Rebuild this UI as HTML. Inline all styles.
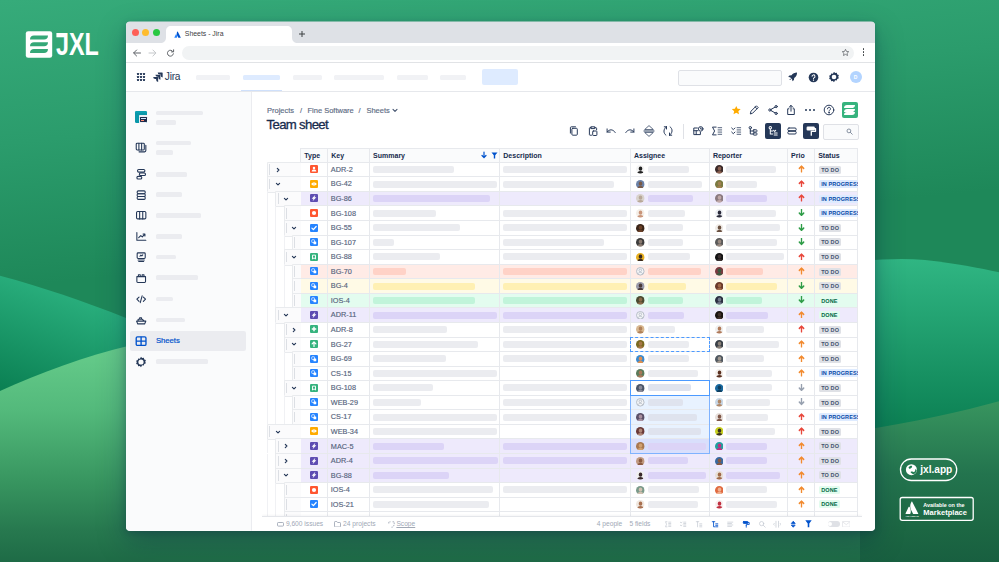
<!DOCTYPE html>
<html lang="en"><head><meta charset="utf-8"><title>Sheets - Jira</title>
<style>
html,body{margin:0;padding:0}
body{width:999px;height:562px;overflow:hidden;position:relative;background:#2a9d6e;font-family:"Liberation Sans",Arial,sans-serif;color:#172b4d}
.abs,.abs *{position:absolute}
.abs{left:0;top:0}
#bg{position:absolute;left:0;top:0}
#win{position:absolute;left:126px;top:21.5px;width:749px;height:509px;background:#fff;border-radius:4px;box-shadow:0 10px 28px rgba(9,30,66,.34),0 2px 7px rgba(9,30,66,.24);overflow:hidden}
#pg{position:absolute;left:0;top:0;width:999px;height:562px;clip-path:inset(21.5px 124px 31.5px 126px round 4px)}
#pg div,#pg span,#pg svg{position:absolute}
.t{white-space:nowrap;line-height:1}
.bar{border-radius:2px;height:7px}
.sb{height:4.8px;border-radius:1.5px;background:#ebecf0;left:156.4px}
.hl{height:1px;background:#e7e9ed}
.vl{width:1px;background:#e7e9ed}
.k{font-size:7.300px;color:#56647d;left:330.800px;-webkit-text-stroke:.15px #56647d}
.th{font-size:7px;font-weight:bold;color:#172b4d}
.loz{height:8px;border-radius:1.5px;font-size:5.500px;font-weight:bold;line-height:8.4px;padding:0 2.4px;white-space:nowrap;letter-spacing:.1px}
.todo{background:#dfe1e6;color:#42526e}
.prog{background:#deebff;color:#0747a6}
.done{background:#e3fcef;color:#006644}
.ft{font-size:6.650px;color:#a0a8b5;top:521.300px}
</style></head><body>

<svg id="bg" width="999" height="562" viewBox="0 0 999 562">
<defs>
<linearGradient id="g0" gradientUnits="userSpaceOnUse" x1="0" y1="0" x2="28" y2="285"><stop offset="0" stop-color="#36ab7a"/><stop offset="0.5" stop-color="#2b9c6c"/><stop offset="1" stop-color="#1e8859"/></linearGradient>
<linearGradient id="g2" gradientUnits="userSpaceOnUse" x1="40" y1="276" x2="0" y2="392"><stop offset="0" stop-color="#2bb17f"/><stop offset="1" stop-color="#0a7f52"/></linearGradient>
<linearGradient id="g3" gradientUnits="userSpaceOnUse" x1="0" y1="347" x2="0" y2="562"><stop offset="0" stop-color="#66cc8b"/><stop offset="0.3" stop-color="#53b97b"/><stop offset="0.62" stop-color="#389660"/><stop offset="0.85" stop-color="#27794f"/><stop offset="1" stop-color="#1e6b46"/></linearGradient>
<linearGradient id="g4" gradientUnits="userSpaceOnUse" x1="0" y1="258" x2="0" y2="432"><stop offset="0" stop-color="#30b683"/><stop offset="1" stop-color="#0b7f52"/></linearGradient>
<linearGradient id="g5" gradientUnits="userSpaceOnUse" x1="0" y1="401" x2="0" y2="562"><stop offset="0" stop-color="#38955f"/><stop offset="0.45" stop-color="#23744e"/><stop offset="0.8" stop-color="#1c6743"/><stop offset="1" stop-color="#185f40"/></linearGradient>
</defs>
<rect width="999" height="562" fill="url(#g0)"/>
<path d="M0,275.8 C42,287 84,301.500 126,318 L200,350 L200,562 L0,562Z" fill="url(#g2)"/>
<path d="M0,391 C40,373 85,356 130,345.500 L870,345.500 L870,562 L0,562Z" fill="url(#g3)"/>
<path d="M860,562 L860,261 C885,259 905,258 925,260 C955,263.500 980,268 999,272.300 L999,562Z" fill="url(#g4)"/>
<path d="M860,562 L860,430.500 C915,422 962,411.500 999,401.300 L999,562Z" fill="url(#g5)"/>
</svg>

<div id="win"></div>
<div id="pg">

<div style="left:126px;top:21px;width:749px;height:22px;background:#dee1e6"></div>
<svg style="left:160px;top:26px" width="142" height="17" viewBox="0 0 142 17"><path d="M0,17 C4,17 6,15 6,11 L6,5 C6,2 8,0 11,0 L127,0 C130,0 132,2 132,5 L132,11 C132,15 134,17 138,17Z" fill="#fff"/></svg>
<div style="left:132.0px;top:28.8px;width:7px;height:7px;border-radius:50%;background:#fe5f57"></div>
<div style="left:142.4px;top:28.8px;width:7px;height:7px;border-radius:50%;background:#febc2e"></div>
<div style="left:152.8px;top:28.8px;width:7px;height:7px;border-radius:50%;background:#28c840"></div>
<svg style="left:173.700px;top:31px" width="7" height="7" viewBox="0 0 16 16"><path d="M5.2,7.3c-.2-.3-.6-.3-.8.1L.8,14.6c-.1.3.1.6.4.6h5c.2,0,.3-.1.4-.3C7.700,12.700,7,9.600,5.200,7.300Z" fill="#2684ff"/><path d="M7.700,1.100C5.700,4.200,5.900,7.600,7.200,10.200l2.400,4.800c.1.200.2.300.4.300h5c.3,0,.5-.3.400-.6L8.500,1.100C8.300.800,7.900.800,7.700,1.100Z" fill="#0052cc"/></svg>
<span class="t" style="left:184.800px;top:31.200px;font-size:6.900px;color:#3c4043">Sheets - Jira</span>
<svg style="left:298px;top:30px" width="8" height="8" viewBox="0 0 8 8"><path d="M4,1V7M1,4H7" stroke="#3c4043" stroke-width="1" fill="none"/></svg>
<div style="left:126px;top:43px;width:749px;height:19px;background:#fff"></div>
<div style="left:126px;top:62px;width:749px;height:1px;background:#e1e3e6"></div>
<div style="left:181.5px;top:45.5px;width:672px;height:14px;border-radius:7px;background:#f1f3f4"></div>
<svg style="left:132px;top:47.5px" width="50" height="10" viewBox="0 0 50 10"><g fill="none" stroke-linecap="round" stroke-linejoin="round" stroke-width="1"><path d="M8.500,5H1.800M4.600,2L1.600,5L4.600,8" stroke="#5f6368"/><path d="M17,5H23.700M20.900,2L23.900,5L20.900,8" stroke="#c4c7ca"/><path d="M41,3.600A3,3 0 1 0 41.400,5.800" stroke="#5f6368"/><path d="M41.600,1.800V3.900H39.500" stroke="#5f6368"/></g></svg>
<svg style="left:840.5px;top:47.5px" width="9" height="9" viewBox="0 0 24 24"><path d="M12,3.500l2.600,5.600 6.100.7-4.500,4.200 1.200,6-5.400-3-5.400,3 1.200-6L3.300,9.800l6.100-.7Z" fill="none" stroke="#5f6368" stroke-width="2" stroke-linejoin="round"/></svg>
<div style="left:862.7px;top:48.400000000000006px;width:1.7px;height:1.7px;border-radius:50%;background:#3c4043"></div>
<div style="left:862.7px;top:51.2px;width:1.7px;height:1.7px;border-radius:50%;background:#3c4043"></div>
<div style="left:862.7px;top:54.0px;width:1.7px;height:1.7px;border-radius:50%;background:#3c4043"></div>
<div style="left:126px;top:91px;width:749px;height:1px;background:#e6e8ec"></div>
<div style="left:137.0px;top:72.6px;width:2px;height:2px;border-radius:.4px;background:#253858"></div>
<div style="left:137.0px;top:75.69999999999999px;width:2px;height:2px;border-radius:.4px;background:#253858"></div>
<div style="left:137.0px;top:78.8px;width:2px;height:2px;border-radius:.4px;background:#253858"></div>
<div style="left:140.1px;top:72.6px;width:2px;height:2px;border-radius:.4px;background:#253858"></div>
<div style="left:140.1px;top:75.69999999999999px;width:2px;height:2px;border-radius:.4px;background:#253858"></div>
<div style="left:140.1px;top:78.8px;width:2px;height:2px;border-radius:.4px;background:#253858"></div>
<div style="left:143.2px;top:72.6px;width:2px;height:2px;border-radius:.4px;background:#253858"></div>
<div style="left:143.2px;top:75.69999999999999px;width:2px;height:2px;border-radius:.4px;background:#253858"></div>
<div style="left:143.2px;top:78.8px;width:2px;height:2px;border-radius:.4px;background:#253858"></div>
<svg style="left:152.500px;top:72px" width="10" height="10" viewBox="0 0 20 20"><g fill="#253858"><path d="M18.500,1H9.400a4.100,4.100 0 0 0 4.100,4.100h1.700v1.600a4.100,4.100 0 0 0 4.100,4.100V1.800A.8.800 0 0 0 18.500,1Z"/><path d="M14,5.500H4.900A4.100,4.100 0 0 0 9,9.600h1.700v1.600a4.100,4.100 0 0 0 4.100,4.100V6.300A.8.800 0 0 0 14,5.500Z"/><path d="M9.500,10H.4a4.100,4.100 0 0 0 4.100,4.100h1.700v1.600a4.100,4.100 0 0 0 4.100,4.100V10.800A.8.800 0 0 0 9.500,10Z"/></g></svg>
<span class="t" style="left:164.800px;top:71.6px;font-size:10.200px;color:#253858;letter-spacing:-.25px">Jira</span>
<div style="left:196px;top:74.6px;width:34px;height:5px;border-radius:1.5px;background:#f1f2f5"></div>
<div style="left:243px;top:74.6px;width:36.5px;height:5px;border-radius:1.5px;background:#deebff"></div>
<div style="left:293px;top:74.6px;width:28.5px;height:5px;border-radius:1.5px;background:#f1f2f5"></div>
<div style="left:334px;top:74.6px;width:50px;height:5px;border-radius:1.5px;background:#f1f2f5"></div>
<div style="left:396.5px;top:74.6px;width:31.0px;height:5px;border-radius:1.5px;background:#f1f2f5"></div>
<div style="left:440px;top:74.6px;width:26px;height:5px;border-radius:1.5px;background:#f1f2f5"></div>
<div style="left:241px;top:89.8px;width:40.5px;height:1.6px;background:#cfe0fb"></div>
<div style="left:481.5px;top:68.5px;width:36px;height:16.5px;border-radius:2px;background:#deebff"></div>
<div style="left:677.5px;top:69.5px;width:102.500px;height:14.500px;border-radius:2px;border:1px solid #dfe1e6;background:#fafbfc;box-sizing:content-box"></div>
<svg style="left:787.300px;top:71.300px" width="11.500" height="11.500" viewBox="0 0 24 24"><path d="M21,3c-5,0-9,2-11.500,6L5,9.500 2.500,12.500l4,.8 4.200,4.200.8,4 3-2.500.5-4.500C19,12,21,8,21,3ZM6.500,15.500l2,2L5,19Z" fill="#253858"/></svg>
<svg style="left:808px;top:71.500px" width="11" height="11" viewBox="0 0 24 24"><circle cx="12" cy="12" r="10.500" fill="#253858"/><path d="M8.800,9.500a3.200,3.200 0 1 1 4.800,2.700c-1,.6-1.600,1.100-1.600,2.300" stroke="#fff" stroke-width="2.200" fill="none" stroke-linecap="round"/><circle cx="12" cy="17.800" r="1.400" fill="#fff"/></svg>
<svg style="left:828px;top:71px" width="12" height="12" viewBox="0 0 24 24"><path d="M12,1.500l2.200,2.700 3.400-.8 .9,3.400 3.300,1.300-1.300,3.200 1.300,3.200-3.300,1.300-.9,3.400-3.400-.8L12,22.500l-2.200-2.700-3.400.8-.9-3.400-3.300-1.300 1.300-3.200L2.200,9.500l3.300-1.300.9-3.400 3.400.8Z" fill="#253858"/><circle cx="12" cy="12" r="4.600" fill="#fff"/></svg>
<div style="left:850px;top:71px;width:12px;height:12px;border-radius:50%;background:#b3d4ff"></div><span class="t" style="left:853.800px;top:74.600px;font-size:5px;color:#fff;font-weight:bold">D</span>
<div style="left:126px;top:92px;width:125px;height:440px;background:#fafbfc"></div>
<div style="left:251px;top:92px;width:1px;height:440px;background:#ebecf0"></div>
<div style="left:134.800px;top:110.600px;width:12.700px;height:12.500px;border-radius:1.5px;background:#0a98aa"></div>
<div style="left:134.800px;top:110.600px;width:12.700px;height:2px;border-radius:1.5px 1.5px 0 0;background:#0da0b2"></div>
<div style="left:139.300px;top:115.300px;width:8.200px;height:7.800px;background:#e9eef5;border-radius:.8px 0 1.5px 0"></div><div style="left:140px;top:116.700px;width:7.200px;height:5.700px;background:#1d2a4a;border-radius:.4px"></div>
<div style="left:141px;top:118.300px;width:5px;height:1px;background:#cfe8ff"></div><div style="left:141px;top:120.300px;width:3px;height:1px;background:#ff8f73"></div>
<div class="sb" style="top:110.500px;width:46.700px"></div><div class="sb" style="top:119.800px;width:19.900px"></div>
<div class="sb" style="top:140.700px;width:34.200px"></div><div class="sb" style="top:150.100px;width:17.100px"></div>
<div class="sb" style="top:172.0px;width:30.5px"></div>
<div class="sb" style="top:192.3px;width:25.9px"></div>
<div class="sb" style="top:213.1px;width:44.4px"></div>
<div class="sb" style="top:233.9px;width:25.9px"></div>
<div class="sb" style="top:254.6px;width:19.9px"></div>
<div class="sb" style="top:275.4px;width:41.9px"></div>
<div class="sb" style="top:296.5px;width:16.5px"></div>
<div class="sb" style="top:317.6px;width:28.8px"></div>
<div class="sb" style="top:359.4px;width:51.8px"></div>
<div style="left:130px;top:330.500px;width:116.400px;height:20px;border-radius:2px;background:#ebecf0"></div>
<span class="t" style="left:155.900px;top:336.800px;font-size:7.700px;color:#0052cc;-webkit-text-stroke:.2px #0052cc">Sheets</span>
<svg style="left:135.1px;top:140.7px" width="12.4" height="12.4" viewBox="0 0 20 20"><g fill="none" stroke="#253858" stroke-width="1.750" stroke-linecap="round" stroke-linejoin="round"><rect x="2" y="3.500" width="13" height="11" rx="1.500"/><path d="M6.300,3.500v11M10.700,3.500v11M17.500,7v8.500a2,2 0 0 1-2,2H6.500"/></g></svg>
<svg style="left:135.1px;top:168.2px" width="12.4" height="12.4" viewBox="0 0 20 20"><g fill="none" stroke="#253858" stroke-width="1.750" stroke-linecap="round" stroke-linejoin="round"><rect x="4" y="2.500" width="12" height="4.200" rx="2.100"/><rect x="7" y="8" width="10" height="4.200" rx="2.100"/><rect x="3" y="13.500" width="8" height="4.200" rx="2.100"/></g></svg>
<svg style="left:135.1px;top:188.5px" width="12.4" height="12.4" viewBox="0 0 20 20"><g fill="none" stroke="#253858" stroke-width="1.750" stroke-linecap="round" stroke-linejoin="round"><rect x="3.500" y="3" width="13" height="4.600" rx="1.800"/><rect x="3.500" y="7.600" width="13" height="4.600" rx="1.800"/><rect x="3.500" y="12.200" width="13" height="4.600" rx="1.800"/></g></svg>
<svg style="left:135.1px;top:209.3px" width="12.4" height="12.4" viewBox="0 0 20 20"><g fill="none" stroke="#253858" stroke-width="1.750" stroke-linecap="round" stroke-linejoin="round"><rect x="2.500" y="4" width="15" height="12" rx="1.800"/><path d="M7.500,4v12M12.500,4v12"/></g></svg>
<svg style="left:135.1px;top:230.1px" width="12.4" height="12.4" viewBox="0 0 20 20"><g fill="none" stroke="#253858" stroke-width="1.750" stroke-linecap="round" stroke-linejoin="round"><path d="M3,4v12.500h14.500M6,12.500l3.300-3.500 2.500,2.200 4-4.500M13,6.500h3v3"/></g></svg>
<svg style="left:135.1px;top:250.8px" width="12.4" height="12.4" viewBox="0 0 20 20"><g fill="none" stroke="#253858" stroke-width="1.750" stroke-linecap="round" stroke-linejoin="round"><rect x="3.500" y="3" width="13" height="9" rx="1.500"/><path d="M5,14.500h10M6,17h8M8,8.500l1.500-1.800 1.500,1.300 1.500-1.800"/></g></svg>
<svg style="left:135.1px;top:271.6px" width="12.4" height="12.4" viewBox="0 0 20 20"><g fill="none" stroke="#253858" stroke-width="1.750" stroke-linecap="round" stroke-linejoin="round"><path d="M3,7.500h14v8a1.500,1.500 0 0 1-1.500,1.500h-11A1.500,1.500 0 0 1 3,15.500ZM5.500,7.500v-3h3v3M11.500,7.500v-3h3v3"/></g></svg>
<svg style="left:135.1px;top:292.7px" width="12.4" height="12.4" viewBox="0 0 20 20"><g fill="none" stroke="#253858" stroke-width="1.750" stroke-linecap="round" stroke-linejoin="round"><path d="M6.500,6.500L3,10l3.500,3.500M13.500,6.500L17,10l-3.500,3.500M11.500,4.500l-3,11"/></g></svg>
<svg style="left:135.1px;top:313.8px" width="12.4" height="12.4" viewBox="0 0 20 20"><g fill="none" stroke="#253858" stroke-width="1.750" stroke-linecap="round" stroke-linejoin="round"><path d="M2.500,11.500h15l-2,4.500h-11ZM5,11.500v-3h7l3,3M7.500,8.500V6h3v2.500"/></g></svg>
<svg style="left:135.200px;top:334.600px" width="12.200" height="12.200" viewBox="0 0 20 20"><g fill="none" stroke="#0052cc" stroke-width="2.200" stroke-linejoin="round"><rect x="2" y="3" width="16" height="14" rx="2"/><path d="M2,10h16M10,3v14"/></g></svg>
<svg style="left:135.300px;top:355.800px" width="12" height="12" viewBox="0 0 24 24"><path d="M12,1.500l2.200,2.700 3.400-.8 .9,3.400 3.300,1.300-1.300,3.200 1.300,3.200-3.300,1.300-.9,3.400-3.400-.8L12,22.500l-2.200-2.700-3.400.8-.9-3.400-3.300-1.300 1.300-3.200L2.200,9.500l3.300-1.300.9-3.400 3.400.8Z" fill="#253858"/><circle cx="12" cy="12" r="5.200" fill="#fafbfc"/></svg>
<span class="t" style="left:267px;top:106.500px;font-size:7.500px;color:#5e6c84;-webkit-text-stroke:.15px #5e6c84">Projects</span>
<span class="t" style="left:300px;top:106.500px;font-size:7.500px;color:#5e6c84;-webkit-text-stroke:.15px #5e6c84">/</span>
<span class="t" style="left:307.500px;top:106.500px;font-size:7.500px;color:#5e6c84;-webkit-text-stroke:.15px #5e6c84">Fine Software</span>
<span class="t" style="left:358.600px;top:106.500px;font-size:7.500px;color:#5e6c84;-webkit-text-stroke:.15px #5e6c84">/</span>
<span class="t" style="left:366.400px;top:106.500px;font-size:7.500px;color:#5e6c84;-webkit-text-stroke:.15px #5e6c84">Sheets</span>
<svg style="left:392px;top:108px" width="6" height="5" viewBox="0 0 6 5"><path d="M1,1.300L3,3.300L5,1.300" stroke="#42526e" stroke-width="1.100" fill="none" stroke-linecap="round" stroke-linejoin="round"/></svg>
<span class="t" style="left:266.600px;top:117.900px;font-size:13.200px;color:#172b4d;letter-spacing:-.68px;-webkit-text-stroke:.3px #172b4d">Team sheet</span>
<svg style="left:730.500px;top:104.600px" width="10.500" height="10.500" viewBox="0 0 24 24"><path d="M12,2l3,6.600 7.200.8-5.400,4.900 1.500,7.100L12,17.800 5.700,21.400l1.500-7.100L1.800,9.400 9,8.600Z" fill="#ffab00"/></svg>
<svg style="left:748.4px;top:104.0px" width="12" height="12" viewBox="0 0 20 20"><g fill="none" stroke="#253858" stroke-width="1.650" stroke-linecap="round" stroke-linejoin="round"><path d="M4,16l1-4L14,3l3,3-9,9ZM12,5l3,3"/></g></svg>
<svg style="left:766.7px;top:104.0px" width="12" height="12" viewBox="0 0 20 20"><g fill="none" stroke="#253858" stroke-width="1.650" stroke-linecap="round" stroke-linejoin="round"><circle cx="15.200" cy="4.300" r="1.900"/><circle cx="4.800" cy="10" r="1.900"/><circle cx="15.200" cy="15.700" r="1.900"/><path d="M13.500,5.200L6.500,9.100M6.500,10.900l7,3.900"/></g></svg>
<svg style="left:785.4px;top:104.0px" width="12" height="12" viewBox="0 0 20 20"><g fill="none" stroke="#253858" stroke-width="1.650" stroke-linecap="round" stroke-linejoin="round"><path d="M10,12V2.500M6.800,5.500L10,2.300l3.200,3.200M6.500,8H4.500v9.500h11V8h-2"/></g></svg>
<div style="left:805.4px;top:109px;width:2px;height:2px;border-radius:50%;background:#253858"></div>
<div style="left:809.3px;top:109px;width:2px;height:2px;border-radius:50%;background:#253858"></div>
<div style="left:813.1999999999999px;top:109px;width:2px;height:2px;border-radius:50%;background:#253858"></div>
<svg style="left:823.0px;top:104.0px" width="12" height="12" viewBox="0 0 20 20"><g fill="none" stroke="#253858" stroke-width="1.650" stroke-linecap="round" stroke-linejoin="round"><circle cx="10" cy="10" r="8"/><path d="M7.500,8a2.500,2.500 0 1 1 3.700,2.200c-.8.500-1.200.9-1.200,1.800"/><circle cx="10" cy="14.600" r=".6" fill="#253858"/></g></svg>
<div style="left:841.600px;top:101.800px;width:16.600px;height:16.500px;border-radius:2px;background:#36b37e"></div>
<svg style="left:844.400px;top:104.6px" width="11" height="3.200" viewBox="0 0 11 3"><path d="M0,3C0,1.200 1.200,0 3,0H11C11,1.800 9.800,3 8,3Z" fill="#fff"/></svg>
<svg style="left:844.400px;top:108.5px" width="11" height="3.200" viewBox="0 0 11 3"><path d="M0,3C0,1.200 1.200,0 3,0H11C11,1.800 9.800,3 8,3Z" fill="#fff"/></svg>
<svg style="left:844.400px;top:112.4px" width="11" height="3.200" viewBox="0 0 11 3"><path d="M0,3C0,1.200 1.200,0 3,0H11C11,1.800 9.800,3 8,3Z" fill="#fff"/></svg>
<svg style="left:568.0px;top:125.3px" width="12" height="12" viewBox="0 0 20 20"><g fill="none" stroke="#253858" stroke-width="1.650" stroke-linecap="round" stroke-linejoin="round"><rect x="6.500" y="5.500" width="9" height="11.500" rx="1.500"/><path d="M4,13.500V4.500a1.500,1.500 0 0 1 1.500-1.500h7"/></g></svg>
<svg style="left:586.6px;top:125.3px" width="12" height="12" viewBox="0 0 20 20"><g fill="none" stroke="#253858" stroke-width="1.650" stroke-linecap="round" stroke-linejoin="round"><path d="M7,4.500H5a1,1 0 0 0-1,1v10.500a1,1 0 0 0 1,1h2.500M13,4.500h2a1,1 0 0 1 1,1V8M7,3h6v3H7Z"/><rect x="9.500" y="10" width="7" height="7.500" rx="1"/></g></svg>
<svg style="left:605.2px;top:125.3px" width="12" height="12" viewBox="0 0 20 20"><g fill="none" stroke="#253858" stroke-width="1.650" stroke-linecap="round" stroke-linejoin="round"><path d="M3.500,11.800C7,6.800 13,6.300 17,12.500M3.500,6.500V11.800H8.800"/></g></svg>
<svg style="left:624.4px;top:125.3px" width="12" height="12" viewBox="0 0 20 20"><g fill="none" stroke="#253858" stroke-width="1.650" stroke-linecap="round" stroke-linejoin="round"><path d="M16.500,11.800C13,6.800 7,6.300 3,12.500M16.500,6.500V11.800H11.200"/></g></svg>
<svg style="left:643.0px;top:125.3px" width="12" height="12" viewBox="0 0 20 20"><g fill="none" stroke="#253858" stroke-width="1.650" stroke-linecap="round" stroke-linejoin="round"><path d="M1.500,10h17" stroke-width="1.500"/><path d="M3.200,7.200L10,1 16.800,7.200ZM3.200,12.800L10,19 16.800,12.800Z" stroke-width="1.250"/></g></svg>
<svg style="left:661.5px;top:125.3px" width="12" height="12" viewBox="0 0 20 20"><g fill="none" stroke="#253858" stroke-width="1.650" stroke-linecap="round" stroke-linejoin="round"><path d="M6.500,17C1.800,13.500 2,6.500 7.500,3M7.500,3H3.800M7.500,3V6.700M13.500,3C18.200,6.500 18,13.500 12.500,17M12.500,17H16.200M12.500,17V13.300"/></g></svg>
<div style="left:682.700px;top:124px;width:1px;height:15px;background:#dfe1e6"></div>
<svg style="left:692.0px;top:125.3px" width="12" height="12" viewBox="0 0 20 20"><g fill="none" stroke="#253858" stroke-width="1.650" stroke-linecap="round" stroke-linejoin="round"><path d="M9,5H3v11h11v-4M3,9.500h7M7,9.500V16"/><circle cx="14.500" cy="6.500" r="3.800"/><path d="M14.500,4.800v2h1.500"/></g></svg>
<svg style="left:710.8px;top:125.3px" width="12" height="12" viewBox="0 0 20 20"><g fill="none" stroke="#253858" stroke-width="1.650" stroke-linecap="round" stroke-linejoin="round"><path d="M8.500,3.500H2.500l3.500,6.500L2.500,16.500h6" /><path d="M11.800,4.500h6M11.800,8.200h6M11.800,11.800h6M11.800,15.500h6" stroke-width="1.300"/></g></svg>
<svg style="left:729.5px;top:125.3px" width="12" height="12" viewBox="0 0 20 20"><g fill="none" stroke="#253858" stroke-width="1.650" stroke-linecap="round" stroke-linejoin="round"><path d="M2.800,5l2.700,2.700L8.200,5M2.800,11.800l2.700,2.700L8.200,11.800"/><path d="M11.800,4.500h6M11.800,8.200h6M11.800,11.800h6M11.800,15.500h6" stroke-width="1.300"/></g></svg>
<svg style="left:747.0px;top:125.3px" width="12" height="12" viewBox="0 0 20 20"><g fill="none" stroke="#253858" stroke-width="1.650" stroke-linecap="round" stroke-linejoin="round"><circle cx="5.500" cy="4.500" r="2"/><path d="M5.500,6.500V15h5M5.500,10h5"/><rect x="10.500" y="8" width="6" height="3.600" rx="1"/><rect x="10.500" y="13.200" width="6" height="3.600" rx="1"/></g></svg>
<div style="left:765px;top:123px;width:16px;height:16px;border-radius:2px;background:#253858"></div>
<svg style="left:767.0px;top:125.3px" width="12" height="12" viewBox="0 0 20 20"><g fill="none" stroke="#fff" stroke-width="1.700" stroke-linecap="round" stroke-linejoin="round"><circle cx="5.500" cy="4.500" r="2"/><path d="M5.500,6.500V15h4M5.500,10h4M11,9l1.800,1.800L14.500,9M12,13.500h5M12,16.500h5"/></g></svg>
<svg style="left:786.3px;top:125.3px" width="12" height="12" viewBox="0 0 20 20"><g fill="none" stroke="#253858" stroke-width="1.650" stroke-linecap="round" stroke-linejoin="round"><rect x="3" y="5" width="14" height="4.500" rx="2"/><rect x="3" y="10.500" width="14" height="4.500" rx="2"/></g></svg>
<div style="left:802.900px;top:123px;width:16px;height:16px;border-radius:2px;background:#253858"></div>
<svg style="left:804.9px;top:125.3px" width="12" height="12" viewBox="0 0 20 20"><g fill="none" stroke="#fff" stroke-width="1.700" stroke-linecap="round" stroke-linejoin="round"><rect x="3.500" y="3.500" width="12" height="5" rx="1" fill="#fff"/><path d="M15.500,6h2v4.500h-7V13M10.500,13v4" stroke-width="2.200"/></g></svg>
<div style="left:823.400px;top:123.500px;width:33.600px;height:14px;border-radius:2px;border:1px solid #dfe1e6;background:#fafbfc"></div>
<svg style="left:846px;top:127.500px" width="7" height="7" viewBox="0 0 14 14"><circle cx="5.800" cy="5.800" r="3.800" fill="none" stroke="#6b778c" stroke-width="1.600"/><path d="M8.800,8.800L12.500,12.500" stroke="#6b778c" stroke-width="1.600" stroke-linecap="round"/></svg>
<div style="left:300.7px;top:148.200px;width:556.8px;height:14.200px;background:#fafbfc"></div>
<div class="hl" style="left:300.7px;top:147.800px;width:556.8px"></div>
<div style="left:300.7px;top:191.42px;width:556.8px;height:14.56px;background:#eeeafc"></div>
<div style="left:300.7px;top:264.22px;width:556.8px;height:14.56px;background:#ffebe6"></div>
<div style="left:300.7px;top:278.78px;width:556.8px;height:14.56px;background:#fffae6"></div>
<div style="left:300.7px;top:293.34px;width:556.8px;height:14.56px;background:#e3fcef"></div>
<div style="left:300.7px;top:307.90px;width:556.8px;height:14.56px;background:#eeeafc"></div>
<div style="left:300.7px;top:438.94px;width:556.8px;height:14.56px;background:#eeeafc"></div>
<div style="left:300.7px;top:453.50px;width:556.8px;height:14.56px;background:#eeeafc"></div>
<div style="left:300.7px;top:468.06px;width:556.8px;height:14.56px;background:#eeeafc"></div>
<div style="left:630.4px;top:395.26px;width:78.89999999999998px;height:58.24px;background:rgba(76,154,255,.13)"></div>
<div class="hl" style="left:300.7px;top:161.80px;width:556.8px"></div>
<div class="hl" style="left:300.7px;top:176.36px;width:556.8px"></div>
<div class="hl" style="left:300.7px;top:190.92px;width:556.8px"></div>
<div class="hl" style="left:300.7px;top:205.48px;width:556.8px"></div>
<div class="hl" style="left:300.7px;top:220.04px;width:556.8px"></div>
<div class="hl" style="left:300.7px;top:234.60px;width:556.8px"></div>
<div class="hl" style="left:300.7px;top:249.16px;width:556.8px"></div>
<div class="hl" style="left:300.7px;top:263.72px;width:556.8px"></div>
<div class="hl" style="left:300.7px;top:278.28px;width:556.8px"></div>
<div class="hl" style="left:300.7px;top:292.84px;width:556.8px"></div>
<div class="hl" style="left:300.7px;top:307.40px;width:556.8px"></div>
<div class="hl" style="left:300.7px;top:321.96px;width:556.8px"></div>
<div class="hl" style="left:300.7px;top:336.52px;width:556.8px"></div>
<div class="hl" style="left:300.7px;top:351.08px;width:556.8px"></div>
<div class="hl" style="left:300.7px;top:365.64px;width:556.8px"></div>
<div class="hl" style="left:300.7px;top:380.20px;width:556.8px"></div>
<div class="hl" style="left:300.7px;top:394.76px;width:556.8px"></div>
<div class="hl" style="left:300.7px;top:409.32px;width:556.8px"></div>
<div class="hl" style="left:300.7px;top:423.88px;width:556.8px"></div>
<div class="hl" style="left:300.7px;top:438.44px;width:556.8px"></div>
<div class="hl" style="left:300.7px;top:453.00px;width:556.8px"></div>
<div class="hl" style="left:300.7px;top:467.56px;width:556.8px"></div>
<div class="hl" style="left:300.7px;top:482.12px;width:556.8px"></div>
<div class="hl" style="left:300.7px;top:496.68px;width:556.8px"></div>
<div class="hl" style="left:300.7px;top:511.24px;width:556.8px"></div>
<div class="vl" style="left:300.2px;top:148px;width:1px;height:368px"></div>
<div class="vl" style="left:327.1px;top:148px;width:1px;height:368px"></div>
<div class="vl" style="left:369.0px;top:148px;width:1px;height:368px"></div>
<div class="vl" style="left:499.2px;top:148px;width:1px;height:368px"></div>
<div class="vl" style="left:629.9px;top:148px;width:1px;height:368px"></div>
<div class="vl" style="left:708.8px;top:148px;width:1px;height:368px"></div>
<div class="vl" style="left:787.0px;top:148px;width:1px;height:368px"></div>
<div class="vl" style="left:814.1px;top:148px;width:1px;height:368px"></div>
<div class="vl" style="left:857.0px;top:148px;width:1px;height:368px"></div>
<span class="t th" style="left:304.3px;top:152px">Type</span>
<span class="t th" style="left:331.2px;top:152px">Key</span>
<span class="t th" style="left:373.1px;top:152px">Summary</span>
<span class="t th" style="left:503.3px;top:152px">Description</span>
<span class="t th" style="left:634.0px;top:152px">Assignee</span>
<span class="t th" style="left:712.9px;top:152px">Reporter</span>
<span class="t th" style="left:791.1px;top:152px">Prio</span>
<span class="t th" style="left:818.2px;top:152px">Status</span>
<svg style="left:480.500px;top:151px" width="6" height="8" viewBox="0 0 6 8"><path d="M3,1V6.500M1,4.500L3,6.700L5,4.500" stroke="#0052cc" stroke-width="1.200" fill="none" stroke-linecap="round" stroke-linejoin="round"/></svg>
<svg style="left:490.500px;top:151.500px" width="7" height="7" viewBox="0 0 7 7"><path d="M.5,.5H6.500L4.200,3.300V6.500H2.800V3.300Z" fill="#0052cc"/></svg>
<div style="left:267.0px;top:161.80px;width:33.2px;height:14.56px;border:1px solid #e9ebee;border-right:none;border-radius:1.500px 0 0 1.500px;background:#fbfbfc;box-sizing:content-box"></div>
<div style="left:269.1px;top:164.30px;width:1px;height:10.6px;background:#dcdfe4"></div>
<svg style="left:274.5px;top:166.6px" width="6" height="6" viewBox="0 0 6 6"><path d="M2.300,1.400L3.900,3L2.300,4.600" stroke="#253858" stroke-width="1.150" fill="none" stroke-linecap="round" stroke-linejoin="round"/></svg>
<svg style="left:310.0px;top:165.3px" width="8" height="8" viewBox="0 0 16 16"><rect width="16" height="16" rx="2.200" fill="#ff5630"/><circle cx="8" cy="5.800" r="2.500" fill="#fff"/><path d="M3.300,13.200c0-3 2-4.200 4.700-4.200s4.700,1.200 4.700,4.200Z" fill="#fff"/></svg>
<span class="t k" style="top:165.88px">ADR-2</span>
<div class="bar" style="left:372.800px;top:166.08px;width:81.4px;background:#ebecf0"></div>
<div class="bar" style="left:503.400px;top:166.08px;width:123.5px;background:#ebecf0"></div>
<div class="bar" style="left:647.500px;top:166.08px;width:41.0px;background:#ebecf0"></div>
<div class="bar" style="left:726.100px;top:166.08px;width:49.8px;background:#ebecf0"></div>
<svg style="left:636.0px;top:165.3px" width="8.600" height="8.600" viewBox="0 0 20 20"><clipPath id="c640_169"><circle cx="10" cy="10" r="10"/></clipPath><g clip-path="url(#c640_169)"><rect width="20" height="20" fill="#f4f4f4"/><ellipse cx="10.500" cy="8.500" rx="4.200" ry="5" fill="#222"/><path d="M2,22c0-6 4-8 8.500-8s8,2 8,8Z" fill="#222"/></g></svg>
<svg style="left:714.7px;top:165.3px" width="8.600" height="8.600" viewBox="0 0 20 20"><clipPath id="c719_169"><circle cx="10" cy="10" r="10"/></clipPath><g clip-path="url(#c719_169)"><rect width="20" height="20" fill="#3a2a2a"/><ellipse cx="10.500" cy="8.500" rx="4.200" ry="5" fill="#8a6050"/><path d="M2,22c0-6 4-8 8.500-8s8,2 8,8Z" fill="#8a6050"/></g></svg>
<svg style="left:797.500px;top:165.28px" width="7" height="7.500" viewBox="0 0 7 7.500"><path d="M3.500,6.900V1.600" stroke="#f28b30" stroke-width="1.350" fill="none" stroke-linecap="round"/><path d="M1.400,3.400L3.500,1.200L5.600,3.400" stroke="#f28b30" stroke-width="1.600" fill="none" stroke-linejoin="round" stroke-linecap="round"/></svg>
<span class="loz todo" style="left:818.800px;top:165.58px">TO DO</span>
<div style="left:267.0px;top:176.36px;width:33.2px;height:14.56px;border:1px solid #e9ebee;border-right:none;border-radius:1.500px 0 0 1.500px;background:#fbfbfc;box-sizing:content-box"></div>
<div style="left:269.1px;top:178.86px;width:1px;height:10.6px;background:#dcdfe4"></div>
<svg style="left:274.5px;top:181.1px" width="6" height="6" viewBox="0 0 6 6"><path d="M1.400,2.300L3,3.900L4.600,2.300" stroke="#253858" stroke-width="1.150" fill="none" stroke-linecap="round" stroke-linejoin="round"/></svg>
<svg style="left:310.0px;top:179.8px" width="8" height="8" viewBox="0 0 16 16"><rect width="16" height="16" rx="2.200" fill="#ffab00"/><path d="M2,8L7.300,3.800V12.200ZM14,8L8.700,3.800V12.200Z" fill="#fff"/><rect x="6.500" y="7" width="3" height="2" fill="#fff"/></svg>
<span class="t k" style="top:180.44px">BG-42</span>
<div class="bar" style="left:372.800px;top:180.64px;width:123.8px;background:#ebecf0"></div>
<div class="bar" style="left:503.400px;top:180.64px;width:110.2px;background:#ebecf0"></div>
<div class="bar" style="left:647.500px;top:180.64px;width:54.9px;background:#ebecf0"></div>
<div class="bar" style="left:726.100px;top:180.64px;width:31.0px;background:#ebecf0"></div>
<svg style="left:636.0px;top:179.8px" width="8.600" height="8.600" viewBox="0 0 20 20"><clipPath id="c640_184"><circle cx="10" cy="10" r="10"/></clipPath><g clip-path="url(#c640_184)"><rect width="20" height="20" fill="#6b82a8"/><ellipse cx="10.500" cy="8.500" rx="4.200" ry="5" fill="#7a5a48"/><path d="M2,22c0-6 4-8 8.500-8s8,2 8,8Z" fill="#7a5a48"/></g></svg>
<svg style="left:714.7px;top:179.8px" width="8.600" height="8.600" viewBox="0 0 20 20"><clipPath id="c719_184"><circle cx="10" cy="10" r="10"/></clipPath><g clip-path="url(#c719_184)"><rect width="20" height="20" fill="#7a7a40"/><ellipse cx="10.500" cy="8.500" rx="4.200" ry="5" fill="#a08050"/><path d="M2,22c0-6 4-8 8.500-8s8,2 8,8Z" fill="#a08050"/></g></svg>
<svg style="left:797.500px;top:179.84px" width="7" height="7.500" viewBox="0 0 7 7.500"><path d="M3.500,6.900V1.600" stroke="#e8483c" stroke-width="1.350" fill="none" stroke-linecap="round"/><path d="M1.400,3.400L3.500,1.200L5.600,3.400" stroke="#e8483c" stroke-width="1.600" fill="none" stroke-linejoin="round" stroke-linecap="round"/></svg>
<span class="loz prog" style="left:818.800px;top:180.14px">IN PROGRESS</span>
<div class="vl" style="left:267.0px;top:191.42px;height:14.56px;background:#f0f1f4"></div>
<div style="left:275.4px;top:190.92px;width:24.8px;height:14.56px;border:1px solid #e9ebee;border-right:none;border-radius:1.500px 0 0 1.500px;background:#fbfbfc;box-sizing:content-box"></div>
<div style="left:277.5px;top:193.42px;width:1px;height:10.6px;background:#dcdfe4"></div>
<svg style="left:282.9px;top:195.7px" width="6" height="6" viewBox="0 0 6 6"><path d="M1.400,2.300L3,3.900L4.600,2.300" stroke="#253858" stroke-width="1.150" fill="none" stroke-linecap="round" stroke-linejoin="round"/></svg>
<svg style="left:310.0px;top:194.4px" width="8" height="8" viewBox="0 0 16 16"><rect width="16" height="16" rx="2.200" fill="#5e4db2"/><path d="M10.800,1.600L3.300,9.300h3.700L5.200,14.400 12.700,6.700H9Z" fill="#fff"/></svg>
<span class="t k" style="top:195.00px">BG-86</span>
<div class="bar" style="left:372.800px;top:195.20px;width:117.5px;background:#dcd4f7"></div>
<div class="bar" style="left:647.500px;top:195.20px;width:45.5px;background:#dcd4f7"></div>
<div class="bar" style="left:726.100px;top:195.20px;width:40.9px;background:#dcd4f7"></div>
<svg style="left:636.0px;top:194.4px" width="8.600" height="8.600" viewBox="0 0 20 20"><clipPath id="c640_198"><circle cx="10" cy="10" r="10"/></clipPath><g clip-path="url(#c640_198)"><rect width="20" height="20" fill="#d8d2cc"/><ellipse cx="10.500" cy="8.500" rx="4.200" ry="5" fill="#b8a898"/><path d="M2,22c0-6 4-8 8.500-8s8,2 8,8Z" fill="#b8a898"/></g></svg>
<svg style="left:714.7px;top:194.4px" width="8.600" height="8.600" viewBox="0 0 20 20"><clipPath id="c719_198"><circle cx="10" cy="10" r="10"/></clipPath><g clip-path="url(#c719_198)"><rect width="20" height="20" fill="#8a7a80"/><ellipse cx="10.500" cy="8.500" rx="4.200" ry="5" fill="#c0a8a8"/><path d="M2,22c0-6 4-8 8.500-8s8,2 8,8Z" fill="#c0a8a8"/></g></svg>
<svg style="left:797.500px;top:194.40px" width="7" height="7.500" viewBox="0 0 7 7.500"><path d="M3.500,6.900V1.600" stroke="#e8483c" stroke-width="1.350" fill="none" stroke-linecap="round"/><path d="M1.400,3.400L3.500,1.200L5.600,3.400" stroke="#e8483c" stroke-width="1.600" fill="none" stroke-linejoin="round" stroke-linecap="round"/></svg>
<span class="loz prog" style="left:818.800px;top:194.70px">IN PROGRESS</span>
<div class="vl" style="left:267.0px;top:205.98px;height:14.56px;background:#f0f1f4"></div>
<div class="vl" style="left:275.4px;top:205.98px;height:14.56px;background:#f0f1f4"></div>
<div style="left:283.8px;top:205.48px;width:16.4px;height:14.56px;border:1px solid #e9ebee;border-right:none;border-radius:1.500px 0 0 1.500px;background:#fbfbfc;box-sizing:content-box"></div>
<div style="left:285.9px;top:207.98px;width:1px;height:10.6px;background:#dcdfe4"></div>
<svg style="left:310.0px;top:209.0px" width="8" height="8" viewBox="0 0 16 16"><rect width="16" height="16" rx="2.200" fill="#ff5630"/><circle cx="8" cy="8" r="4.200" fill="#fff"/></svg>
<span class="t k" style="top:209.56px">BG-108</span>
<div class="bar" style="left:372.800px;top:209.76px;width:62.9px;background:#ebecf0"></div>
<div class="bar" style="left:503.400px;top:209.76px;width:123.5px;background:#ebecf0"></div>
<div class="bar" style="left:647.500px;top:209.76px;width:37.3px;background:#ebecf0"></div>
<div class="bar" style="left:726.100px;top:209.76px;width:49.8px;background:#ebecf0"></div>
<svg style="left:636.0px;top:209.0px" width="8.600" height="8.600" viewBox="0 0 20 20"><clipPath id="c640_213"><circle cx="10" cy="10" r="10"/></clipPath><g clip-path="url(#c640_213)"><rect width="20" height="20" fill="#f4efe9"/><ellipse cx="10.500" cy="8.500" rx="4.200" ry="5" fill="#c9957a"/><path d="M2,22c0-6 4-8 8.500-8s8,2 8,8Z" fill="#c9957a"/></g></svg>
<svg style="left:714.7px;top:209.0px" width="8.600" height="8.600" viewBox="0 0 20 20"><clipPath id="c719_213"><circle cx="10" cy="10" r="10"/></clipPath><g clip-path="url(#c719_213)"><rect width="20" height="20" fill="#eef0f4"/><ellipse cx="10.500" cy="8.500" rx="4.200" ry="5" fill="#2a2a3a"/><path d="M2,22c0-6 4-8 8.500-8s8,2 8,8Z" fill="#2a2a3a"/></g></svg>
<svg style="left:797.500px;top:208.96px" width="7" height="7.500" viewBox="0 0 7 7.500"><path d="M3.500,.6V5.900" stroke="#2e9c47" stroke-width="1.350" fill="none" stroke-linecap="round"/><path d="M1.400,4.100L3.500,6.300L5.600,4.100" stroke="#2e9c47" stroke-width="1.600" fill="none" stroke-linejoin="round" stroke-linecap="round"/></svg>
<span class="loz prog" style="left:818.800px;top:209.26px">IN PROGRESS</span>
<div class="vl" style="left:267.0px;top:220.54px;height:14.56px;background:#f0f1f4"></div>
<div class="vl" style="left:275.4px;top:220.54px;height:14.56px;background:#f0f1f4"></div>
<div style="left:283.8px;top:220.04px;width:16.4px;height:14.56px;border:1px solid #e9ebee;border-right:none;border-radius:1.500px 0 0 1.500px;background:#fbfbfc;box-sizing:content-box"></div>
<div style="left:285.9px;top:222.54px;width:1px;height:10.6px;background:#dcdfe4"></div>
<svg style="left:291.3px;top:224.8px" width="6" height="6" viewBox="0 0 6 6"><path d="M1.400,2.300L3,3.900L4.600,2.300" stroke="#253858" stroke-width="1.150" fill="none" stroke-linecap="round" stroke-linejoin="round"/></svg>
<svg style="left:310.0px;top:223.5px" width="8" height="8" viewBox="0 0 16 16"><rect width="16" height="16" rx="2.200" fill="#2684ff"/><path d="M3.800,8.200l3,3L12.300,5" stroke="#fff" stroke-width="2.500" fill="none" stroke-linecap="round" stroke-linejoin="round"/></svg>
<span class="t k" style="top:224.12px">BG-55</span>
<div class="bar" style="left:372.800px;top:224.32px;width:86.8px;background:#ebecf0"></div>
<div class="bar" style="left:503.400px;top:224.32px;width:123.5px;background:#ebecf0"></div>
<div class="bar" style="left:647.500px;top:224.32px;width:35.6px;background:#ebecf0"></div>
<div class="bar" style="left:726.100px;top:224.32px;width:54.3px;background:#ebecf0"></div>
<svg style="left:636.0px;top:223.5px" width="8.600" height="8.600" viewBox="0 0 20 20"><clipPath id="c640_227"><circle cx="10" cy="10" r="10"/></clipPath><g clip-path="url(#c640_227)"><rect width="20" height="20" fill="#3a2418"/><ellipse cx="10.500" cy="8.500" rx="4.200" ry="5" fill="#6a4028"/><path d="M2,22c0-6 4-8 8.500-8s8,2 8,8Z" fill="#6a4028"/></g></svg>
<svg style="left:714.7px;top:223.5px" width="8.600" height="8.600" viewBox="0 0 20 20"><clipPath id="c719_227"><circle cx="10" cy="10" r="10"/></clipPath><g clip-path="url(#c719_227)"><rect width="20" height="20" fill="#f0ece8"/><ellipse cx="10.500" cy="8.500" rx="4.200" ry="5" fill="#6a5040"/><path d="M2,22c0-6 4-8 8.500-8s8,2 8,8Z" fill="#6a5040"/></g></svg>
<svg style="left:797.500px;top:223.52px" width="7" height="7.500" viewBox="0 0 7 7.500"><path d="M3.500,.6V5.900" stroke="#2e9c47" stroke-width="1.350" fill="none" stroke-linecap="round"/><path d="M1.400,4.100L3.500,6.300L5.600,4.100" stroke="#2e9c47" stroke-width="1.600" fill="none" stroke-linejoin="round" stroke-linecap="round"/></svg>
<span class="loz todo" style="left:818.800px;top:223.82px">TO DO</span>
<div class="vl" style="left:267.0px;top:235.10px;height:14.56px;background:#f0f1f4"></div>
<div class="vl" style="left:275.4px;top:235.10px;height:14.56px;background:#f0f1f4"></div>
<div class="vl" style="left:283.8px;top:235.10px;height:14.56px;background:#f0f1f4"></div>
<div style="left:292.2px;top:234.60px;width:8.0px;height:14.56px;border:1px solid #e9ebee;border-right:none;border-radius:1.500px 0 0 1.500px;background:#fbfbfc;box-sizing:content-box"></div>
<div style="left:294.3px;top:237.10px;width:1px;height:10.6px;background:#dcdfe4"></div>
<svg style="left:310.0px;top:238.1px" width="8" height="8" viewBox="0 0 16 16"><rect width="16" height="16" rx="2.200" fill="#2684ff"/><rect x="3.500" y="3.500" width="5.500" height="5.500" rx="1" fill="none" stroke="#fff" stroke-width="1.400"/><rect x="7" y="7" width="5.500" height="5.500" rx="1" fill="#fff"/></svg>
<span class="t k" style="top:238.68px">BG-107</span>
<div class="bar" style="left:372.800px;top:238.88px;width:21.1px;background:#ebecf0"></div>
<div class="bar" style="left:503.400px;top:238.88px;width:100.8px;background:#ebecf0"></div>
<div class="bar" style="left:647.500px;top:238.88px;width:35.6px;background:#ebecf0"></div>
<div class="bar" style="left:726.100px;top:238.88px;width:50.6px;background:#ebecf0"></div>
<svg style="left:636.0px;top:238.1px" width="8.600" height="8.600" viewBox="0 0 20 20"><clipPath id="c640_242"><circle cx="10" cy="10" r="10"/></clipPath><g clip-path="url(#c640_242)"><rect width="20" height="20" fill="#3c3c3c"/><ellipse cx="10.500" cy="8.500" rx="4.200" ry="5" fill="#8a7a70"/><path d="M2,22c0-6 4-8 8.500-8s8,2 8,8Z" fill="#8a7a70"/></g></svg>
<svg style="left:714.7px;top:238.1px" width="8.600" height="8.600" viewBox="0 0 20 20"><clipPath id="c719_242"><circle cx="10" cy="10" r="10"/></clipPath><g clip-path="url(#c719_242)"><rect width="20" height="20" fill="#5a5a5a"/><ellipse cx="10.500" cy="8.500" rx="4.200" ry="5" fill="#9a8a80"/><path d="M2,22c0-6 4-8 8.500-8s8,2 8,8Z" fill="#9a8a80"/></g></svg>
<svg style="left:797.500px;top:238.08px" width="7" height="7.500" viewBox="0 0 7 7.500"><path d="M3.500,.6V5.900" stroke="#2e9c47" stroke-width="1.350" fill="none" stroke-linecap="round"/><path d="M1.400,4.100L3.500,6.300L5.600,4.100" stroke="#2e9c47" stroke-width="1.600" fill="none" stroke-linejoin="round" stroke-linecap="round"/></svg>
<span class="loz todo" style="left:818.800px;top:238.38px">TO DO</span>
<div class="vl" style="left:267.0px;top:249.66px;height:14.56px;background:#f0f1f4"></div>
<div class="vl" style="left:275.4px;top:249.66px;height:14.56px;background:#f0f1f4"></div>
<div style="left:283.8px;top:249.16px;width:16.4px;height:14.56px;border:1px solid #e9ebee;border-right:none;border-radius:1.500px 0 0 1.500px;background:#fbfbfc;box-sizing:content-box"></div>
<div style="left:285.9px;top:251.66px;width:1px;height:10.6px;background:#dcdfe4"></div>
<svg style="left:291.3px;top:253.9px" width="6" height="6" viewBox="0 0 6 6"><path d="M1.400,2.300L3,3.900L4.600,2.300" stroke="#253858" stroke-width="1.150" fill="none" stroke-linecap="round" stroke-linejoin="round"/></svg>
<svg style="left:310.0px;top:252.6px" width="8" height="8" viewBox="0 0 16 16"><rect width="16" height="16" rx="2.200" fill="#36b37e"/><path d="M5,4.300h6v7.700l-3-2.300-3,2.300Z" fill="none" stroke="#fff" stroke-width="1.900" stroke-linejoin="round"/></svg>
<span class="t k" style="top:253.24px">BG-88</span>
<div class="bar" style="left:372.800px;top:253.44px;width:66.9px;background:#ebecf0"></div>
<div class="bar" style="left:503.400px;top:253.44px;width:123.5px;background:#ebecf0"></div>
<div class="bar" style="left:647.500px;top:253.44px;width:42.4px;background:#ebecf0"></div>
<div class="bar" style="left:726.100px;top:253.44px;width:58.0px;background:#ebecf0"></div>
<svg style="left:636.0px;top:252.6px" width="8.600" height="8.600" viewBox="0 0 20 20"><clipPath id="c640_256"><circle cx="10" cy="10" r="10"/></clipPath><g clip-path="url(#c640_256)"><rect width="20" height="20" fill="#e8b020"/><ellipse cx="10.500" cy="8.500" rx="4.200" ry="5" fill="#3a2a20"/><path d="M2,22c0-6 4-8 8.500-8s8,2 8,8Z" fill="#3a2a20"/></g></svg>
<svg style="left:714.7px;top:252.6px" width="8.600" height="8.600" viewBox="0 0 20 20"><clipPath id="c719_256"><circle cx="10" cy="10" r="10"/></clipPath><g clip-path="url(#c719_256)"><rect width="20" height="20" fill="#141414"/><ellipse cx="10.500" cy="8.500" rx="4.200" ry="5" fill="#3a3030"/><path d="M2,22c0-6 4-8 8.500-8s8,2 8,8Z" fill="#3a3030"/></g></svg>
<svg style="left:797.500px;top:252.64px" width="7" height="7.500" viewBox="0 0 7 7.500"><path d="M3.500,6.900V1.600" stroke="#e8483c" stroke-width="1.350" fill="none" stroke-linecap="round"/><path d="M1.400,3.400L3.500,1.200L5.600,3.400" stroke="#e8483c" stroke-width="1.600" fill="none" stroke-linejoin="round" stroke-linecap="round"/></svg>
<span class="loz todo" style="left:818.800px;top:252.94px">TO DO</span>
<div class="vl" style="left:267.0px;top:264.22px;height:14.56px;background:#f0f1f4"></div>
<div class="vl" style="left:275.4px;top:264.22px;height:14.56px;background:#f0f1f4"></div>
<div class="vl" style="left:283.8px;top:264.22px;height:14.56px;background:#f0f1f4"></div>
<div style="left:292.2px;top:263.72px;width:8.0px;height:14.56px;border:1px solid #e9ebee;border-right:none;border-radius:1.500px 0 0 1.500px;background:#fbfbfc;box-sizing:content-box"></div>
<div style="left:294.3px;top:266.22px;width:1px;height:10.6px;background:#dcdfe4"></div>
<svg style="left:310.0px;top:267.2px" width="8" height="8" viewBox="0 0 16 16"><rect width="16" height="16" rx="2.200" fill="#2684ff"/><rect x="3.500" y="3.500" width="5.500" height="5.500" rx="1" fill="none" stroke="#fff" stroke-width="1.400"/><rect x="7" y="7" width="5.500" height="5.500" rx="1" fill="#fff"/></svg>
<span class="t k" style="top:267.80px">BG-70</span>
<div class="bar" style="left:372.800px;top:268.00px;width:33.6px;background:#ffd2c7"></div>
<div class="bar" style="left:503.400px;top:268.00px;width:123.5px;background:#ffd2c7"></div>
<div class="bar" style="left:647.500px;top:268.00px;width:53.5px;background:#ffd2c7"></div>
<div class="bar" style="left:726.100px;top:268.00px;width:36.7px;background:#ffd2c7"></div>
<svg style="left:636.0px;top:267.2px" width="8.600" height="8.600" viewBox="0 0 20 20"><circle cx="10" cy="10" r="8.800" fill="#f4f5f7" stroke="#b3bac5" stroke-width="2.200"/><circle cx="10" cy="7.800" r="3" fill="#f4f5f7" stroke="#b3bac5" stroke-width="1.900"/><path d="M4.500,16.500c.5-3 3-4.200 5.500-4.200s5,1.200 5.500,4.200" fill="none" stroke="#b3bac5" stroke-width="1.900"/></svg>
<svg style="left:714.7px;top:267.2px" width="8.600" height="8.600" viewBox="0 0 20 20"><clipPath id="c719_271"><circle cx="10" cy="10" r="10"/></clipPath><g clip-path="url(#c719_271)"><rect width="20" height="20" fill="#7a3a40"/><ellipse cx="10.500" cy="8.500" rx="4.200" ry="5" fill="#3a5a40"/><path d="M2,22c0-6 4-8 8.500-8s8,2 8,8Z" fill="#3a5a40"/></g></svg>
<svg style="left:797.500px;top:267.20px" width="7" height="7.500" viewBox="0 0 7 7.500"><path d="M3.500,6.900V1.600" stroke="#f28b30" stroke-width="1.350" fill="none" stroke-linecap="round"/><path d="M1.400,3.400L3.500,1.200L5.600,3.400" stroke="#f28b30" stroke-width="1.600" fill="none" stroke-linejoin="round" stroke-linecap="round"/></svg>
<span class="loz todo" style="left:818.800px;top:267.50px">TO DO</span>
<div class="vl" style="left:267.0px;top:278.78px;height:14.56px;background:#f0f1f4"></div>
<div class="vl" style="left:275.4px;top:278.78px;height:14.56px;background:#f0f1f4"></div>
<div class="vl" style="left:283.8px;top:278.78px;height:14.56px;background:#f0f1f4"></div>
<div style="left:292.2px;top:278.28px;width:8.0px;height:14.56px;border:1px solid #e9ebee;border-right:none;border-radius:1.500px 0 0 1.500px;background:#fbfbfc;box-sizing:content-box"></div>
<div style="left:294.3px;top:280.78px;width:1px;height:10.6px;background:#dcdfe4"></div>
<svg style="left:310.0px;top:281.8px" width="8" height="8" viewBox="0 0 16 16"><rect width="16" height="16" rx="2.200" fill="#2684ff"/><rect x="3.500" y="3.500" width="5.500" height="5.500" rx="1" fill="none" stroke="#fff" stroke-width="1.400"/><rect x="7" y="7" width="5.500" height="5.500" rx="1" fill="#fff"/></svg>
<span class="t k" style="top:282.36px">BG-4</span>
<div class="bar" style="left:372.800px;top:282.56px;width:101.9px;background:#fff0b3"></div>
<div class="bar" style="left:503.400px;top:282.56px;width:123.5px;background:#fff0b3"></div>
<div class="bar" style="left:647.500px;top:282.56px;width:38.7px;background:#fff0b3"></div>
<div class="bar" style="left:726.100px;top:282.56px;width:50.6px;background:#fff0b3"></div>
<svg style="left:636.0px;top:281.8px" width="8.600" height="8.600" viewBox="0 0 20 20"><clipPath id="c640_286"><circle cx="10" cy="10" r="10"/></clipPath><g clip-path="url(#c640_286)"><rect width="20" height="20" fill="#9a9aaa"/><ellipse cx="10.500" cy="8.500" rx="4.200" ry="5" fill="#4a3a3a"/><path d="M2,22c0-6 4-8 8.500-8s8,2 8,8Z" fill="#4a3a3a"/></g></svg>
<svg style="left:714.7px;top:281.8px" width="8.600" height="8.600" viewBox="0 0 20 20"><clipPath id="c719_286"><circle cx="10" cy="10" r="10"/></clipPath><g clip-path="url(#c719_286)"><rect width="20" height="20" fill="#6a3a2a"/><ellipse cx="10.500" cy="8.500" rx="4.200" ry="5" fill="#a06848"/><path d="M2,22c0-6 4-8 8.500-8s8,2 8,8Z" fill="#a06848"/></g></svg>
<svg style="left:797.500px;top:281.76px" width="7" height="7.500" viewBox="0 0 7 7.500"><path d="M3.500,.6V5.900" stroke="#2e9c47" stroke-width="1.350" fill="none" stroke-linecap="round"/><path d="M1.400,4.100L3.500,6.300L5.600,4.100" stroke="#2e9c47" stroke-width="1.600" fill="none" stroke-linejoin="round" stroke-linecap="round"/></svg>
<span class="loz todo" style="left:818.800px;top:282.06px">TO DO</span>
<div class="vl" style="left:267.0px;top:293.34px;height:14.56px;background:#f0f1f4"></div>
<div class="vl" style="left:275.4px;top:293.34px;height:14.56px;background:#f0f1f4"></div>
<div class="vl" style="left:283.8px;top:293.34px;height:14.56px;background:#f0f1f4"></div>
<div style="left:292.2px;top:292.84px;width:8.0px;height:14.56px;border:1px solid #e9ebee;border-right:none;border-radius:1.500px 0 0 1.500px;background:#fbfbfc;box-sizing:content-box"></div>
<div style="left:294.3px;top:295.34px;width:1px;height:10.6px;background:#dcdfe4"></div>
<svg style="left:310.0px;top:296.3px" width="8" height="8" viewBox="0 0 16 16"><rect width="16" height="16" rx="2.200" fill="#2684ff"/><rect x="3.500" y="3.500" width="5.500" height="5.500" rx="1" fill="none" stroke="#fff" stroke-width="1.400"/><rect x="7" y="7" width="5.500" height="5.500" rx="1" fill="#fff"/></svg>
<span class="t k" style="top:296.92px">IOS-4</span>
<div class="bar" style="left:372.800px;top:297.12px;width:101.9px;background:#c1f4da"></div>
<div class="bar" style="left:503.400px;top:297.12px;width:123.5px;background:#c1f4da"></div>
<div class="bar" style="left:647.500px;top:297.12px;width:35.6px;background:#c1f4da"></div>
<div class="bar" style="left:726.100px;top:297.12px;width:35.5px;background:#c1f4da"></div>
<svg style="left:636.0px;top:296.3px" width="8.600" height="8.600" viewBox="0 0 20 20"><clipPath id="c640_300"><circle cx="10" cy="10" r="10"/></clipPath><g clip-path="url(#c640_300)"><rect width="20" height="20" fill="#4a4a30"/><ellipse cx="10.500" cy="8.500" rx="4.200" ry="5" fill="#8a6a4a"/><path d="M2,22c0-6 4-8 8.500-8s8,2 8,8Z" fill="#8a6a4a"/></g></svg>
<svg style="left:714.7px;top:296.3px" width="8.600" height="8.600" viewBox="0 0 20 20"><clipPath id="c719_300"><circle cx="10" cy="10" r="10"/></clipPath><g clip-path="url(#c719_300)"><rect width="20" height="20" fill="#2a3040"/><ellipse cx="10.500" cy="8.500" rx="4.200" ry="5" fill="#707888"/><path d="M2,22c0-6 4-8 8.500-8s8,2 8,8Z" fill="#707888"/></g></svg>
<svg style="left:797.500px;top:296.32px" width="7" height="7.500" viewBox="0 0 7 7.500"><path d="M3.500,.6V5.900" stroke="#2e9c47" stroke-width="1.350" fill="none" stroke-linecap="round"/><path d="M1.400,4.100L3.500,6.300L5.600,4.100" stroke="#2e9c47" stroke-width="1.600" fill="none" stroke-linejoin="round" stroke-linecap="round"/></svg>
<span class="loz done" style="left:818.800px;top:296.62px">DONE</span>
<div class="vl" style="left:267.0px;top:307.90px;height:14.56px;background:#f0f1f4"></div>
<div style="left:275.4px;top:307.40px;width:24.8px;height:14.56px;border:1px solid #e9ebee;border-right:none;border-radius:1.500px 0 0 1.500px;background:#fbfbfc;box-sizing:content-box"></div>
<div style="left:277.5px;top:309.90px;width:1px;height:10.6px;background:#dcdfe4"></div>
<svg style="left:282.9px;top:312.2px" width="6" height="6" viewBox="0 0 6 6"><path d="M1.400,2.300L3,3.900L4.600,2.300" stroke="#253858" stroke-width="1.150" fill="none" stroke-linecap="round" stroke-linejoin="round"/></svg>
<svg style="left:310.0px;top:310.9px" width="8" height="8" viewBox="0 0 16 16"><rect width="16" height="16" rx="2.200" fill="#5e4db2"/><path d="M10.800,1.600L3.300,9.300h3.700L5.200,14.400 12.700,6.700H9Z" fill="#fff"/></svg>
<span class="t k" style="top:311.48px">ADR-11</span>
<div class="bar" style="left:372.800px;top:311.68px;width:123.8px;background:#dcd4f7"></div>
<div class="bar" style="left:503.400px;top:311.68px;width:123.5px;background:#dcd4f7"></div>
<div class="bar" style="left:647.500px;top:311.68px;width:36.2px;background:#dcd4f7"></div>
<div class="bar" style="left:726.100px;top:311.68px;width:41.5px;background:#dcd4f7"></div>
<svg style="left:636.0px;top:310.9px" width="8.600" height="8.600" viewBox="0 0 20 20"><circle cx="10" cy="10" r="8.800" fill="#f4f5f7" stroke="#b3bac5" stroke-width="2.200"/><circle cx="10" cy="7.800" r="3" fill="#f4f5f7" stroke="#b3bac5" stroke-width="1.900"/><path d="M4.500,16.500c.5-3 3-4.200 5.500-4.200s5,1.200 5.500,4.200" fill="none" stroke="#b3bac5" stroke-width="1.900"/></svg>
<svg style="left:714.7px;top:310.9px" width="8.600" height="8.600" viewBox="0 0 20 20"><clipPath id="c719_315"><circle cx="10" cy="10" r="10"/></clipPath><g clip-path="url(#c719_315)"><rect width="20" height="20" fill="#1a1410"/><ellipse cx="10.500" cy="8.500" rx="4.200" ry="5" fill="#403028"/><path d="M2,22c0-6 4-8 8.500-8s8,2 8,8Z" fill="#403028"/></g></svg>
<svg style="left:797.500px;top:310.88px" width="7" height="7.500" viewBox="0 0 7 7.500"><path d="M3.500,6.900V1.600" stroke="#f28b30" stroke-width="1.350" fill="none" stroke-linecap="round"/><path d="M1.400,3.400L3.500,1.200L5.600,3.400" stroke="#f28b30" stroke-width="1.600" fill="none" stroke-linejoin="round" stroke-linecap="round"/></svg>
<span class="loz done" style="left:818.800px;top:311.18px">DONE</span>
<div class="vl" style="left:267.0px;top:322.46px;height:14.56px;background:#f0f1f4"></div>
<div class="vl" style="left:275.4px;top:322.46px;height:14.56px;background:#f0f1f4"></div>
<div style="left:283.8px;top:321.96px;width:16.4px;height:14.56px;border:1px solid #e9ebee;border-right:none;border-radius:1.500px 0 0 1.500px;background:#fbfbfc;box-sizing:content-box"></div>
<div style="left:285.9px;top:324.46px;width:1px;height:10.6px;background:#dcdfe4"></div>
<svg style="left:291.3px;top:326.7px" width="6" height="6" viewBox="0 0 6 6"><path d="M2.300,1.400L3.900,3L2.300,4.600" stroke="#253858" stroke-width="1.150" fill="none" stroke-linecap="round" stroke-linejoin="round"/></svg>
<svg style="left:310.0px;top:325.4px" width="8" height="8" viewBox="0 0 16 16"><rect width="16" height="16" rx="2.200" fill="#36b37e"/><path d="M8,3.500v9M3.500,8h9" stroke="#fff" stroke-width="2.800" fill="none"/></svg>
<span class="t k" style="top:326.04px">ADR-8</span>
<div class="bar" style="left:372.800px;top:326.24px;width:74.0px;background:#ebecf0"></div>
<div class="bar" style="left:503.400px;top:326.24px;width:123.5px;background:#ebecf0"></div>
<div class="bar" style="left:647.500px;top:326.24px;width:27.9px;background:#ebecf0"></div>
<div class="bar" style="left:726.100px;top:326.24px;width:37.5px;background:#ebecf0"></div>
<svg style="left:636.0px;top:325.4px" width="8.600" height="8.600" viewBox="0 0 20 20"><clipPath id="c640_329"><circle cx="10" cy="10" r="10"/></clipPath><g clip-path="url(#c640_329)"><rect width="20" height="20" fill="#d8b890"/><ellipse cx="10.500" cy="8.500" rx="4.200" ry="5" fill="#b08058"/><path d="M2,22c0-6 4-8 8.500-8s8,2 8,8Z" fill="#b08058"/></g></svg>
<svg style="left:714.7px;top:325.4px" width="8.600" height="8.600" viewBox="0 0 20 20"><clipPath id="c719_329"><circle cx="10" cy="10" r="10"/></clipPath><g clip-path="url(#c719_329)"><rect width="20" height="20" fill="#f0f0f0"/><ellipse cx="10.500" cy="8.500" rx="4.200" ry="5" fill="#b07a5a"/><path d="M2,22c0-6 4-8 8.500-8s8,2 8,8Z" fill="#b07a5a"/></g></svg>
<svg style="left:797.500px;top:325.44px" width="7" height="7.500" viewBox="0 0 7 7.500"><path d="M3.500,6.900V1.600" stroke="#e8483c" stroke-width="1.350" fill="none" stroke-linecap="round"/><path d="M1.400,3.400L3.500,1.200L5.600,3.400" stroke="#e8483c" stroke-width="1.600" fill="none" stroke-linejoin="round" stroke-linecap="round"/></svg>
<span class="loz todo" style="left:818.800px;top:325.74px">TO DO</span>
<div class="vl" style="left:267.0px;top:337.02px;height:14.56px;background:#f0f1f4"></div>
<div class="vl" style="left:275.4px;top:337.02px;height:14.56px;background:#f0f1f4"></div>
<div style="left:283.8px;top:336.52px;width:16.4px;height:14.56px;border:1px solid #e9ebee;border-right:none;border-radius:1.500px 0 0 1.500px;background:#fbfbfc;box-sizing:content-box"></div>
<div style="left:285.9px;top:339.02px;width:1px;height:10.6px;background:#dcdfe4"></div>
<svg style="left:291.3px;top:341.3px" width="6" height="6" viewBox="0 0 6 6"><path d="M1.400,2.300L3,3.900L4.600,2.300" stroke="#253858" stroke-width="1.150" fill="none" stroke-linecap="round" stroke-linejoin="round"/></svg>
<svg style="left:310.0px;top:340.0px" width="8" height="8" viewBox="0 0 16 16"><rect width="16" height="16" rx="2.200" fill="#36b37e"/><path d="M8,12.800V5M4.200,7.800L8,4 11.800,7.800" stroke="#fff" stroke-width="2.400" fill="none" stroke-linecap="round" stroke-linejoin="round"/></svg>
<span class="t k" style="top:340.60px">BG-27</span>
<div class="bar" style="left:372.800px;top:340.80px;width:105.3px;background:#ebecf0"></div>
<div class="bar" style="left:503.400px;top:340.80px;width:123.5px;background:#ebecf0"></div>
<div class="bar" style="left:647.500px;top:340.80px;width:41.3px;background:#ebecf0"></div>
<div class="bar" style="left:726.100px;top:340.80px;width:52.9px;background:#ebecf0"></div>
<svg style="left:636.0px;top:340.0px" width="8.600" height="8.600" viewBox="0 0 20 20"><clipPath id="c640_344"><circle cx="10" cy="10" r="10"/></clipPath><g clip-path="url(#c640_344)"><rect width="20" height="20" fill="#7a6a20"/><ellipse cx="10.500" cy="8.500" rx="4.200" ry="5" fill="#a87848"/><path d="M2,22c0-6 4-8 8.500-8s8,2 8,8Z" fill="#a87848"/></g></svg>
<svg style="left:714.7px;top:340.0px" width="8.600" height="8.600" viewBox="0 0 20 20"><clipPath id="c719_344"><circle cx="10" cy="10" r="10"/></clipPath><g clip-path="url(#c719_344)"><rect width="20" height="20" fill="#3a4048"/><ellipse cx="10.500" cy="8.500" rx="4.200" ry="5" fill="#8a8078"/><path d="M2,22c0-6 4-8 8.500-8s8,2 8,8Z" fill="#8a8078"/></g></svg>
<svg style="left:797.500px;top:340.00px" width="7" height="7.500" viewBox="0 0 7 7.500"><path d="M3.500,6.900V1.600" stroke="#f28b30" stroke-width="1.350" fill="none" stroke-linecap="round"/><path d="M1.400,3.400L3.500,1.200L5.600,3.400" stroke="#f28b30" stroke-width="1.600" fill="none" stroke-linejoin="round" stroke-linecap="round"/></svg>
<span class="loz todo" style="left:818.800px;top:340.30px">TO DO</span>
<div class="vl" style="left:267.0px;top:351.58px;height:14.56px;background:#f0f1f4"></div>
<div class="vl" style="left:275.4px;top:351.58px;height:14.56px;background:#f0f1f4"></div>
<div class="vl" style="left:283.8px;top:351.58px;height:14.56px;background:#f0f1f4"></div>
<div style="left:292.2px;top:351.08px;width:8.0px;height:14.56px;border:1px solid #e9ebee;border-right:none;border-radius:1.500px 0 0 1.500px;background:#fbfbfc;box-sizing:content-box"></div>
<div style="left:294.3px;top:353.58px;width:1px;height:10.6px;background:#dcdfe4"></div>
<svg style="left:310.0px;top:354.6px" width="8" height="8" viewBox="0 0 16 16"><rect width="16" height="16" rx="2.200" fill="#2684ff"/><rect x="3.500" y="3.500" width="5.500" height="5.500" rx="1" fill="none" stroke="#fff" stroke-width="1.400"/><rect x="7" y="7" width="5.500" height="5.500" rx="1" fill="#fff"/></svg>
<span class="t k" style="top:355.16px">BG-69</span>
<div class="bar" style="left:372.800px;top:355.36px;width:73.1px;background:#ebecf0"></div>
<div class="bar" style="left:503.400px;top:355.36px;width:123.5px;background:#ebecf0"></div>
<div class="bar" style="left:647.500px;top:355.36px;width:41.0px;background:#ebecf0"></div>
<div class="bar" style="left:726.100px;top:355.36px;width:38.4px;background:#ebecf0"></div>
<svg style="left:636.0px;top:354.6px" width="8.600" height="8.600" viewBox="0 0 20 20"><clipPath id="c640_358"><circle cx="10" cy="10" r="10"/></clipPath><g clip-path="url(#c640_358)"><rect width="20" height="20" fill="#3a8ad0"/><ellipse cx="10.500" cy="8.500" rx="4.200" ry="5" fill="#e09050"/><path d="M2,22c0-6 4-8 8.500-8s8,2 8,8Z" fill="#e09050"/></g></svg>
<svg style="left:714.7px;top:354.6px" width="8.600" height="8.600" viewBox="0 0 20 20"><clipPath id="c719_358"><circle cx="10" cy="10" r="10"/></clipPath><g clip-path="url(#c719_358)"><rect width="20" height="20" fill="#505860"/><ellipse cx="10.500" cy="8.500" rx="4.200" ry="5" fill="#a09890"/><path d="M2,22c0-6 4-8 8.500-8s8,2 8,8Z" fill="#a09890"/></g></svg>
<svg style="left:797.500px;top:354.56px" width="7" height="7.500" viewBox="0 0 7 7.500"><path d="M3.500,6.900V1.600" stroke="#f28b30" stroke-width="1.350" fill="none" stroke-linecap="round"/><path d="M1.400,3.400L3.500,1.200L5.600,3.400" stroke="#f28b30" stroke-width="1.600" fill="none" stroke-linejoin="round" stroke-linecap="round"/></svg>
<span class="loz todo" style="left:818.800px;top:354.86px">TO DO</span>
<div class="vl" style="left:267.0px;top:366.14px;height:14.56px;background:#f0f1f4"></div>
<div class="vl" style="left:275.4px;top:366.14px;height:14.56px;background:#f0f1f4"></div>
<div class="vl" style="left:283.8px;top:366.14px;height:14.56px;background:#f0f1f4"></div>
<div style="left:292.2px;top:365.64px;width:8.0px;height:14.56px;border:1px solid #e9ebee;border-right:none;border-radius:1.500px 0 0 1.500px;background:#fbfbfc;box-sizing:content-box"></div>
<div style="left:294.3px;top:368.14px;width:1px;height:10.6px;background:#dcdfe4"></div>
<svg style="left:310.0px;top:369.1px" width="8" height="8" viewBox="0 0 16 16"><rect width="16" height="16" rx="2.200" fill="#2684ff"/><rect x="3.500" y="3.500" width="5.500" height="5.500" rx="1" fill="none" stroke="#fff" stroke-width="1.400"/><rect x="7" y="7" width="5.500" height="5.500" rx="1" fill="#fff"/></svg>
<span class="t k" style="top:369.72px">CS-15</span>
<div class="bar" style="left:372.800px;top:369.92px;width:123.8px;background:#ebecf0"></div>
<div class="bar" style="left:647.500px;top:369.92px;width:50.1px;background:#ebecf0"></div>
<div class="bar" style="left:726.100px;top:369.92px;width:46.1px;background:#ebecf0"></div>
<svg style="left:636.0px;top:369.1px" width="8.600" height="8.600" viewBox="0 0 20 20"><clipPath id="c640_373"><circle cx="10" cy="10" r="10"/></clipPath><g clip-path="url(#c640_373)"><rect width="20" height="20" fill="#5a7a5a"/><ellipse cx="10.500" cy="8.500" rx="4.200" ry="5" fill="#a87858"/><path d="M2,22c0-6 4-8 8.500-8s8,2 8,8Z" fill="#a87858"/></g></svg>
<svg style="left:714.7px;top:369.1px" width="8.600" height="8.600" viewBox="0 0 20 20"><clipPath id="c719_373"><circle cx="10" cy="10" r="10"/></clipPath><g clip-path="url(#c719_373)"><rect width="20" height="20" fill="#f4f0ec"/><ellipse cx="10.500" cy="8.500" rx="4.200" ry="5" fill="#5a3020"/><path d="M2,22c0-6 4-8 8.500-8s8,2 8,8Z" fill="#5a3020"/></g></svg>
<svg style="left:797.500px;top:369.12px" width="7" height="7.500" viewBox="0 0 7 7.500"><path d="M3.500,6.900V1.600" stroke="#f28b30" stroke-width="1.350" fill="none" stroke-linecap="round"/><path d="M1.400,3.400L3.500,1.200L5.600,3.400" stroke="#f28b30" stroke-width="1.600" fill="none" stroke-linejoin="round" stroke-linecap="round"/></svg>
<span class="loz prog" style="left:818.800px;top:369.42px">IN PROGRESS</span>
<div class="vl" style="left:267.0px;top:380.70px;height:14.56px;background:#f0f1f4"></div>
<div class="vl" style="left:275.4px;top:380.70px;height:14.56px;background:#f0f1f4"></div>
<div style="left:283.8px;top:380.20px;width:16.4px;height:14.56px;border:1px solid #e9ebee;border-right:none;border-radius:1.500px 0 0 1.500px;background:#fbfbfc;box-sizing:content-box"></div>
<div style="left:285.9px;top:382.70px;width:1px;height:10.6px;background:#dcdfe4"></div>
<svg style="left:291.3px;top:385.0px" width="6" height="6" viewBox="0 0 6 6"><path d="M1.400,2.300L3,3.900L4.600,2.300" stroke="#253858" stroke-width="1.150" fill="none" stroke-linecap="round" stroke-linejoin="round"/></svg>
<svg style="left:310.0px;top:383.7px" width="8" height="8" viewBox="0 0 16 16"><rect width="16" height="16" rx="2.200" fill="#36b37e"/><path d="M5,4.300h6v7.700l-3-2.300-3,2.300Z" fill="none" stroke="#fff" stroke-width="1.900" stroke-linejoin="round"/></svg>
<span class="t k" style="top:384.28px">BG-108</span>
<div class="bar" style="left:372.800px;top:384.48px;width:59.8px;background:#ebecf0"></div>
<div class="bar" style="left:503.400px;top:384.48px;width:123.5px;background:#ebecf0"></div>
<div class="bar" style="left:647.500px;top:384.48px;width:43.0px;background:#dfe3ee"></div>
<div class="bar" style="left:726.100px;top:384.48px;width:46.1px;background:#ebecf0"></div>
<svg style="left:636.0px;top:383.7px" width="8.600" height="8.600" viewBox="0 0 20 20"><clipPath id="c640_387"><circle cx="10" cy="10" r="10"/></clipPath><g clip-path="url(#c640_387)"><rect width="20" height="20" fill="#4a5568"/><ellipse cx="10.500" cy="8.500" rx="4.200" ry="5" fill="#8a8a98"/><path d="M2,22c0-6 4-8 8.500-8s8,2 8,8Z" fill="#8a8a98"/></g></svg>
<svg style="left:714.7px;top:383.7px" width="8.600" height="8.600" viewBox="0 0 20 20"><clipPath id="c719_387"><circle cx="10" cy="10" r="10"/></clipPath><g clip-path="url(#c719_387)"><rect width="20" height="20" fill="#1a6aa0"/><ellipse cx="10.500" cy="8.500" rx="4.200" ry="5" fill="#104060"/><path d="M2,22c0-6 4-8 8.500-8s8,2 8,8Z" fill="#104060"/></g></svg>
<svg style="left:797.500px;top:383.68px" width="7" height="7.500" viewBox="0 0 7 7.500"><path d="M3.500,.6V5.900" stroke="#97a0af" stroke-width="1.350" fill="none" stroke-linecap="round"/><path d="M1.400,4.100L3.500,6.300L5.600,4.100" stroke="#97a0af" stroke-width="1.600" fill="none" stroke-linejoin="round" stroke-linecap="round"/></svg>
<span class="loz todo" style="left:818.800px;top:383.98px">TO DO</span>
<div class="vl" style="left:267.0px;top:395.26px;height:14.56px;background:#f0f1f4"></div>
<div class="vl" style="left:275.4px;top:395.26px;height:14.56px;background:#f0f1f4"></div>
<div class="vl" style="left:283.8px;top:395.26px;height:14.56px;background:#f0f1f4"></div>
<div style="left:292.2px;top:394.76px;width:8.0px;height:14.56px;border:1px solid #e9ebee;border-right:none;border-radius:1.500px 0 0 1.500px;background:#fbfbfc;box-sizing:content-box"></div>
<div style="left:294.3px;top:397.26px;width:1px;height:10.6px;background:#dcdfe4"></div>
<svg style="left:310.0px;top:398.2px" width="8" height="8" viewBox="0 0 16 16"><rect width="16" height="16" rx="2.200" fill="#2684ff"/><rect x="3.500" y="3.500" width="5.500" height="5.500" rx="1" fill="none" stroke="#fff" stroke-width="1.400"/><rect x="7" y="7" width="5.500" height="5.500" rx="1" fill="#fff"/></svg>
<span class="t k" style="top:398.84px">WEB-29</span>
<div class="bar" style="left:372.800px;top:399.04px;width:47.8px;background:#ebecf0"></div>
<div class="bar" style="left:503.400px;top:399.04px;width:123.5px;background:#ebecf0"></div>
<div class="bar" style="left:647.500px;top:399.04px;width:35.0px;background:#dfe3ee"></div>
<div class="bar" style="left:726.100px;top:399.04px;width:43.8px;background:#ebecf0"></div>
<svg style="left:636.0px;top:398.2px" width="8.600" height="8.600" viewBox="0 0 20 20"><circle cx="10" cy="10" r="8.800" fill="#f4f5f7" stroke="#b3bac5" stroke-width="2.200"/><circle cx="10" cy="7.800" r="3" fill="#f4f5f7" stroke="#b3bac5" stroke-width="1.900"/><path d="M4.500,16.500c.5-3 3-4.200 5.500-4.200s5,1.200 5.500,4.200" fill="none" stroke="#b3bac5" stroke-width="1.900"/></svg>
<svg style="left:714.7px;top:398.2px" width="8.600" height="8.600" viewBox="0 0 20 20"><clipPath id="c719_402"><circle cx="10" cy="10" r="10"/></clipPath><g clip-path="url(#c719_402)"><rect width="20" height="20" fill="#c8d8e8"/><ellipse cx="10.500" cy="8.500" rx="4.200" ry="5" fill="#b08868"/><path d="M2,22c0-6 4-8 8.500-8s8,2 8,8Z" fill="#b08868"/></g></svg>
<svg style="left:797.500px;top:398.24px" width="7" height="7.500" viewBox="0 0 7 7.500"><path d="M3.500,.6V5.900" stroke="#97a0af" stroke-width="1.350" fill="none" stroke-linecap="round"/><path d="M1.400,4.100L3.500,6.300L5.600,4.100" stroke="#97a0af" stroke-width="1.600" fill="none" stroke-linejoin="round" stroke-linecap="round"/></svg>
<span class="loz todo" style="left:818.800px;top:398.54px">TO DO</span>
<div class="vl" style="left:267.0px;top:409.82px;height:14.56px;background:#f0f1f4"></div>
<div class="vl" style="left:275.4px;top:409.82px;height:14.56px;background:#f0f1f4"></div>
<div class="vl" style="left:283.8px;top:409.82px;height:14.56px;background:#f0f1f4"></div>
<div style="left:292.2px;top:409.32px;width:8.0px;height:14.56px;border:1px solid #e9ebee;border-right:none;border-radius:1.500px 0 0 1.500px;background:#fbfbfc;box-sizing:content-box"></div>
<div style="left:294.3px;top:411.82px;width:1px;height:10.6px;background:#dcdfe4"></div>
<svg style="left:310.0px;top:412.8px" width="8" height="8" viewBox="0 0 16 16"><rect width="16" height="16" rx="2.200" fill="#2684ff"/><rect x="3.500" y="3.500" width="5.500" height="5.500" rx="1" fill="none" stroke="#fff" stroke-width="1.400"/><rect x="7" y="7" width="5.500" height="5.500" rx="1" fill="#fff"/></svg>
<span class="t k" style="top:413.40px">CS-17</span>
<div class="bar" style="left:372.800px;top:413.60px;width:123.8px;background:#ebecf0"></div>
<div class="bar" style="left:503.400px;top:413.60px;width:123.5px;background:#ebecf0"></div>
<div class="bar" style="left:647.500px;top:413.60px;width:49.3px;background:#dfe3ee"></div>
<div class="bar" style="left:726.100px;top:413.60px;width:42.4px;background:#ebecf0"></div>
<svg style="left:636.0px;top:412.8px" width="8.600" height="8.600" viewBox="0 0 20 20"><clipPath id="c640_417"><circle cx="10" cy="10" r="10"/></clipPath><g clip-path="url(#c640_417)"><rect width="20" height="20" fill="#5a5068"/><ellipse cx="10.500" cy="8.500" rx="4.200" ry="5" fill="#a890a0"/><path d="M2,22c0-6 4-8 8.500-8s8,2 8,8Z" fill="#a890a0"/></g></svg>
<svg style="left:714.7px;top:412.8px" width="8.600" height="8.600" viewBox="0 0 20 20"><clipPath id="c719_417"><circle cx="10" cy="10" r="10"/></clipPath><g clip-path="url(#c719_417)"><rect width="20" height="20" fill="#e8e0dc"/><ellipse cx="10.500" cy="8.500" rx="4.200" ry="5" fill="#805848"/><path d="M2,22c0-6 4-8 8.500-8s8,2 8,8Z" fill="#805848"/></g></svg>
<svg style="left:797.500px;top:412.80px" width="7" height="7.500" viewBox="0 0 7 7.500"><path d="M3.500,6.900V1.600" stroke="#e8483c" stroke-width="1.350" fill="none" stroke-linecap="round"/><path d="M1.400,3.400L3.500,1.200L5.600,3.400" stroke="#e8483c" stroke-width="1.600" fill="none" stroke-linejoin="round" stroke-linecap="round"/></svg>
<span class="loz prog" style="left:818.800px;top:413.10px">IN PROGRESS</span>
<div style="left:267.0px;top:423.88px;width:33.2px;height:14.56px;border:1px solid #e9ebee;border-right:none;border-radius:1.500px 0 0 1.500px;background:#fbfbfc;box-sizing:content-box"></div>
<div style="left:269.1px;top:426.38px;width:1px;height:10.6px;background:#dcdfe4"></div>
<svg style="left:274.5px;top:428.7px" width="6" height="6" viewBox="0 0 6 6"><path d="M1.400,2.300L3,3.900L4.600,2.300" stroke="#253858" stroke-width="1.150" fill="none" stroke-linecap="round" stroke-linejoin="round"/></svg>
<svg style="left:310.0px;top:427.4px" width="8" height="8" viewBox="0 0 16 16"><rect width="16" height="16" rx="2.200" fill="#ffab00"/><path d="M2,8L7.300,3.800V12.200ZM14,8L8.700,3.800V12.200Z" fill="#fff"/><rect x="6.500" y="7" width="3" height="2" fill="#fff"/></svg>
<span class="t k" style="top:427.96px">WEB-34</span>
<div class="bar" style="left:372.800px;top:428.16px;width:123.8px;background:#ebecf0"></div>
<div class="bar" style="left:647.500px;top:428.16px;width:53.5px;background:#dfe3ee"></div>
<div class="bar" style="left:726.100px;top:428.16px;width:48.6px;background:#ebecf0"></div>
<svg style="left:636.0px;top:427.4px" width="8.600" height="8.600" viewBox="0 0 20 20"><clipPath id="c640_431"><circle cx="10" cy="10" r="10"/></clipPath><g clip-path="url(#c640_431)"><rect width="20" height="20" fill="#6a3a38"/><ellipse cx="10.500" cy="8.500" rx="4.200" ry="5" fill="#b08878"/><path d="M2,22c0-6 4-8 8.500-8s8,2 8,8Z" fill="#b08878"/></g></svg>
<svg style="left:714.7px;top:427.4px" width="8.600" height="8.600" viewBox="0 0 20 20"><clipPath id="c719_431"><circle cx="10" cy="10" r="10"/></clipPath><g clip-path="url(#c719_431)"><rect width="20" height="20" fill="#c8d020"/><ellipse cx="10.500" cy="8.500" rx="4.200" ry="5" fill="#3a3020"/><path d="M2,22c0-6 4-8 8.500-8s8,2 8,8Z" fill="#3a3020"/></g></svg>
<svg style="left:797.500px;top:427.36px" width="7" height="7.500" viewBox="0 0 7 7.500"><path d="M3.500,6.900V1.600" stroke="#e8483c" stroke-width="1.350" fill="none" stroke-linecap="round"/><path d="M1.400,3.400L3.500,1.200L5.600,3.400" stroke="#e8483c" stroke-width="1.600" fill="none" stroke-linejoin="round" stroke-linecap="round"/></svg>
<span class="loz todo" style="left:818.800px;top:427.66px">TO DO</span>
<div class="vl" style="left:267.0px;top:438.94px;height:14.56px;background:#f0f1f4"></div>
<div style="left:275.4px;top:438.44px;width:24.8px;height:14.56px;border:1px solid #e9ebee;border-right:none;border-radius:1.500px 0 0 1.500px;background:#fbfbfc;box-sizing:content-box"></div>
<div style="left:277.5px;top:440.94px;width:1px;height:10.6px;background:#dcdfe4"></div>
<svg style="left:282.9px;top:443.2px" width="6" height="6" viewBox="0 0 6 6"><path d="M2.300,1.400L3.900,3L2.300,4.600" stroke="#253858" stroke-width="1.150" fill="none" stroke-linecap="round" stroke-linejoin="round"/></svg>
<svg style="left:310.0px;top:441.9px" width="8" height="8" viewBox="0 0 16 16"><rect width="16" height="16" rx="2.200" fill="#5e4db2"/><path d="M10.800,1.600L3.300,9.300h3.700L5.200,14.400 12.700,6.700H9Z" fill="#fff"/></svg>
<span class="t k" style="top:442.52px">MAC-5</span>
<div class="bar" style="left:372.800px;top:442.72px;width:71.7px;background:#dcd4f7"></div>
<div class="bar" style="left:503.400px;top:442.72px;width:123.5px;background:#dcd4f7"></div>
<div class="bar" style="left:647.500px;top:442.72px;width:58.4px;background:#dcd4f7"></div>
<div class="bar" style="left:726.100px;top:442.72px;width:41.2px;background:#dcd4f7"></div>
<svg style="left:636.0px;top:441.9px" width="8.600" height="8.600" viewBox="0 0 20 20"><clipPath id="c640_446"><circle cx="10" cy="10" r="10"/></clipPath><g clip-path="url(#c640_446)"><rect width="20" height="20" fill="#a87850"/><ellipse cx="10.500" cy="8.500" rx="4.200" ry="5" fill="#d0a070"/><path d="M2,22c0-6 4-8 8.500-8s8,2 8,8Z" fill="#d0a070"/></g></svg>
<svg style="left:714.7px;top:441.9px" width="8.600" height="8.600" viewBox="0 0 20 20"><clipPath id="c719_446"><circle cx="10" cy="10" r="10"/></clipPath><g clip-path="url(#c719_446)"><rect width="20" height="20" fill="#20a0a0"/><ellipse cx="10.500" cy="8.500" rx="4.200" ry="5" fill="#c03080"/><path d="M2,22c0-6 4-8 8.500-8s8,2 8,8Z" fill="#c03080"/></g></svg>
<svg style="left:797.500px;top:441.92px" width="7" height="7.500" viewBox="0 0 7 7.500"><path d="M3.500,6.900V1.600" stroke="#f28b30" stroke-width="1.350" fill="none" stroke-linecap="round"/><path d="M1.400,3.400L3.500,1.200L5.600,3.400" stroke="#f28b30" stroke-width="1.600" fill="none" stroke-linejoin="round" stroke-linecap="round"/></svg>
<span class="loz todo" style="left:818.800px;top:442.22px">TO DO</span>
<div class="vl" style="left:267.0px;top:453.50px;height:14.56px;background:#f0f1f4"></div>
<div style="left:275.4px;top:453.00px;width:24.8px;height:14.56px;border:1px solid #e9ebee;border-right:none;border-radius:1.500px 0 0 1.500px;background:#fbfbfc;box-sizing:content-box"></div>
<div style="left:277.5px;top:455.50px;width:1px;height:10.6px;background:#dcdfe4"></div>
<svg style="left:282.9px;top:457.8px" width="6" height="6" viewBox="0 0 6 6"><path d="M2.300,1.400L3.900,3L2.300,4.600" stroke="#253858" stroke-width="1.150" fill="none" stroke-linecap="round" stroke-linejoin="round"/></svg>
<svg style="left:310.0px;top:456.5px" width="8" height="8" viewBox="0 0 16 16"><rect width="16" height="16" rx="2.200" fill="#5e4db2"/><path d="M10.800,1.600L3.300,9.300h3.700L5.200,14.400 12.700,6.700H9Z" fill="#fff"/></svg>
<span class="t k" style="top:457.08px">ADR-4</span>
<div class="bar" style="left:372.800px;top:457.28px;width:124.8px;background:#dcd4f7"></div>
<div class="bar" style="left:503.400px;top:457.28px;width:123.5px;background:#dcd4f7"></div>
<div class="bar" style="left:647.500px;top:457.28px;width:40.8px;background:#dcd4f7"></div>
<div class="bar" style="left:726.100px;top:457.28px;width:40.7px;background:#dcd4f7"></div>
<svg style="left:636.0px;top:456.5px" width="8.600" height="8.600" viewBox="0 0 20 20"><clipPath id="c640_460"><circle cx="10" cy="10" r="10"/></clipPath><g clip-path="url(#c640_460)"><rect width="20" height="20" fill="#c09a80"/><ellipse cx="10.500" cy="8.500" rx="4.200" ry="5" fill="#8a5a40"/><path d="M2,22c0-6 4-8 8.500-8s8,2 8,8Z" fill="#8a5a40"/></g></svg>
<svg style="left:714.7px;top:456.5px" width="8.600" height="8.600" viewBox="0 0 20 20"><clipPath id="c719_460"><circle cx="10" cy="10" r="10"/></clipPath><g clip-path="url(#c719_460)"><rect width="20" height="20" fill="#3a6aa0"/><ellipse cx="10.500" cy="8.500" rx="4.200" ry="5" fill="#8a5a40"/><path d="M2,22c0-6 4-8 8.500-8s8,2 8,8Z" fill="#8a5a40"/></g></svg>
<svg style="left:797.500px;top:456.48px" width="7" height="7.500" viewBox="0 0 7 7.500"><path d="M3.500,6.900V1.600" stroke="#f28b30" stroke-width="1.350" fill="none" stroke-linecap="round"/><path d="M1.400,3.400L3.500,1.200L5.600,3.400" stroke="#f28b30" stroke-width="1.600" fill="none" stroke-linejoin="round" stroke-linecap="round"/></svg>
<span class="loz todo" style="left:818.800px;top:456.78px">TO DO</span>
<div class="vl" style="left:267.0px;top:468.06px;height:14.56px;background:#f0f1f4"></div>
<div style="left:275.4px;top:467.56px;width:24.8px;height:14.56px;border:1px solid #e9ebee;border-right:none;border-radius:1.500px 0 0 1.500px;background:#fbfbfc;box-sizing:content-box"></div>
<div style="left:277.5px;top:470.06px;width:1px;height:10.6px;background:#dcdfe4"></div>
<svg style="left:282.9px;top:472.3px" width="6" height="6" viewBox="0 0 6 6"><path d="M1.400,2.300L3,3.900L4.600,2.300" stroke="#253858" stroke-width="1.150" fill="none" stroke-linecap="round" stroke-linejoin="round"/></svg>
<svg style="left:310.0px;top:471.0px" width="8" height="8" viewBox="0 0 16 16"><rect width="16" height="16" rx="2.200" fill="#5e4db2"/><path d="M10.800,1.600L3.300,9.300h3.700L5.200,14.400 12.700,6.700H9Z" fill="#fff"/></svg>
<span class="t k" style="top:471.64px">BG-88</span>
<div class="bar" style="left:372.800px;top:471.84px;width:76.3px;background:#dcd4f7"></div>
<div class="bar" style="left:647.500px;top:471.84px;width:58.2px;background:#dcd4f7"></div>
<div class="bar" style="left:726.100px;top:471.84px;width:54.4px;background:#dcd4f7"></div>
<svg style="left:636.0px;top:471.0px" width="8.600" height="8.600" viewBox="0 0 20 20"><clipPath id="c640_475"><circle cx="10" cy="10" r="10"/></clipPath><g clip-path="url(#c640_475)"><rect width="20" height="20" fill="#f0f0f0"/><ellipse cx="10.500" cy="8.500" rx="4.200" ry="5" fill="#3a2a2a"/><path d="M2,22c0-6 4-8 8.500-8s8,2 8,8Z" fill="#3a2a2a"/></g></svg>
<svg style="left:714.7px;top:471.0px" width="8.600" height="8.600" viewBox="0 0 20 20"><clipPath id="c719_475"><circle cx="10" cy="10" r="10"/></clipPath><g clip-path="url(#c719_475)"><rect width="20" height="20" fill="#e8e0d8"/><ellipse cx="10.500" cy="8.500" rx="4.200" ry="5" fill="#a06a4a"/><path d="M2,22c0-6 4-8 8.500-8s8,2 8,8Z" fill="#a06a4a"/></g></svg>
<svg style="left:797.500px;top:471.04px" width="7" height="7.500" viewBox="0 0 7 7.500"><path d="M3.500,6.900V1.600" stroke="#f28b30" stroke-width="1.350" fill="none" stroke-linecap="round"/><path d="M1.400,3.400L3.500,1.200L5.600,3.400" stroke="#f28b30" stroke-width="1.600" fill="none" stroke-linejoin="round" stroke-linecap="round"/></svg>
<span class="loz todo" style="left:818.800px;top:471.34px">TO DO</span>
<div class="vl" style="left:267.0px;top:482.62px;height:14.56px;background:#f0f1f4"></div>
<div class="vl" style="left:275.4px;top:482.62px;height:14.56px;background:#f0f1f4"></div>
<div style="left:283.8px;top:482.12px;width:16.4px;height:14.56px;border:1px solid #e9ebee;border-right:none;border-radius:1.500px 0 0 1.500px;background:#fbfbfc;box-sizing:content-box"></div>
<div style="left:285.9px;top:484.62px;width:1px;height:10.6px;background:#dcdfe4"></div>
<svg style="left:310.0px;top:485.6px" width="8" height="8" viewBox="0 0 16 16"><rect width="16" height="16" rx="2.200" fill="#ff5630"/><circle cx="8" cy="8" r="4.200" fill="#fff"/></svg>
<span class="t k" style="top:486.20px">IOS-4</span>
<div class="bar" style="left:372.800px;top:486.40px;width:120.6px;background:#ebecf0"></div>
<div class="bar" style="left:503.400px;top:486.40px;width:123.5px;background:#ebecf0"></div>
<div class="bar" style="left:647.500px;top:486.40px;width:51.7px;background:#ebecf0"></div>
<div class="bar" style="left:726.100px;top:486.40px;width:41.2px;background:#ebecf0"></div>
<svg style="left:636.0px;top:485.6px" width="8.600" height="8.600" viewBox="0 0 20 20"><clipPath id="c640_489"><circle cx="10" cy="10" r="10"/></clipPath><g clip-path="url(#c640_489)"><rect width="20" height="20" fill="#7a9a8a"/><ellipse cx="10.500" cy="8.500" rx="4.200" ry="5" fill="#d0c0b0"/><path d="M2,22c0-6 4-8 8.500-8s8,2 8,8Z" fill="#d0c0b0"/></g></svg>
<svg style="left:714.7px;top:485.6px" width="8.600" height="8.600" viewBox="0 0 20 20"><clipPath id="c719_489"><circle cx="10" cy="10" r="10"/></clipPath><g clip-path="url(#c719_489)"><rect width="20" height="20" fill="#e06a40"/><ellipse cx="10.500" cy="8.500" rx="4.200" ry="5" fill="#f0b090"/><path d="M2,22c0-6 4-8 8.500-8s8,2 8,8Z" fill="#f0b090"/></g></svg>
<svg style="left:797.500px;top:485.60px" width="7" height="7.500" viewBox="0 0 7 7.500"><path d="M3.500,6.900V1.600" stroke="#f28b30" stroke-width="1.350" fill="none" stroke-linecap="round"/><path d="M1.400,3.400L3.500,1.200L5.600,3.400" stroke="#f28b30" stroke-width="1.600" fill="none" stroke-linejoin="round" stroke-linecap="round"/></svg>
<span class="loz done" style="left:818.800px;top:485.90px">DONE</span>
<div class="vl" style="left:267.0px;top:497.18px;height:14.56px;background:#f0f1f4"></div>
<div class="vl" style="left:275.4px;top:497.18px;height:14.56px;background:#f0f1f4"></div>
<div style="left:283.8px;top:496.68px;width:16.4px;height:14.56px;border:1px solid #e9ebee;border-right:none;border-radius:1.500px 0 0 1.500px;background:#fbfbfc;box-sizing:content-box"></div>
<div style="left:285.9px;top:499.18px;width:1px;height:10.6px;background:#dcdfe4"></div>
<svg style="left:310.0px;top:500.2px" width="8" height="8" viewBox="0 0 16 16"><rect width="16" height="16" rx="2.200" fill="#2684ff"/><path d="M3.800,8.200l3,3L12.300,5" stroke="#fff" stroke-width="2.500" fill="none" stroke-linecap="round" stroke-linejoin="round"/></svg>
<span class="t k" style="top:500.76px">IOS-21</span>
<div class="bar" style="left:372.800px;top:500.96px;width:116.4px;background:#ebecf0"></div>
<div class="bar" style="left:647.500px;top:500.96px;width:50.9px;background:#ebecf0"></div>
<div class="bar" style="left:726.100px;top:500.96px;width:50.7px;background:#ebecf0"></div>
<svg style="left:636.0px;top:500.2px" width="8.600" height="8.600" viewBox="0 0 20 20"><clipPath id="c640_504"><circle cx="10" cy="10" r="10"/></clipPath><g clip-path="url(#c640_504)"><rect width="20" height="20" fill="#f0e8e0"/><ellipse cx="10.500" cy="8.500" rx="4.200" ry="5" fill="#a87050"/><path d="M2,22c0-6 4-8 8.500-8s8,2 8,8Z" fill="#a87050"/></g></svg>
<svg style="left:714.7px;top:500.2px" width="8.600" height="8.600" viewBox="0 0 20 20"><clipPath id="c719_504"><circle cx="10" cy="10" r="10"/></clipPath><g clip-path="url(#c719_504)"><rect width="20" height="20" fill="#f8f0f0"/><ellipse cx="10.500" cy="8.500" rx="4.200" ry="5" fill="#c03040"/><path d="M2,22c0-6 4-8 8.500-8s8,2 8,8Z" fill="#c03040"/></g></svg>
<svg style="left:797.500px;top:500.16px" width="7" height="7.500" viewBox="0 0 7 7.500"><path d="M3.500,6.900V1.600" stroke="#f28b30" stroke-width="1.350" fill="none" stroke-linecap="round"/><path d="M1.400,3.400L3.500,1.200L5.600,3.400" stroke="#f28b30" stroke-width="1.600" fill="none" stroke-linejoin="round" stroke-linecap="round"/></svg>
<span class="loz done" style="left:818.800px;top:500.46px">DONE</span>
<div class="vl" style="left:267.0px;top:511.74px;height:14.56px;background:#f0f1f4"></div>
<div class="vl" style="left:275.4px;top:511.74px;height:14.56px;background:#f0f1f4"></div>
<div style="left:283.8px;top:511.24px;width:16.4px;height:14.56px;border:1px solid #e9ebee;border-right:none;border-radius:1.500px 0 0 1.500px;background:#fbfbfc;box-sizing:content-box"></div>
<div style="left:285.9px;top:513.74px;width:1px;height:10.6px;background:#dcdfe4"></div>
<div style="left:858.0px;top:140px;width:17px;height:376px;background:#fff"></div>
<div style="left:629.9px;top:336.52px;width:77.89999999999998px;height:13.56px;border:1px dashed #4c9aff;box-sizing:content-box"></div>
<div style="left:629.9px;top:380.20px;width:77.89999999999998px;height:71.80px;border:1px solid #7fb3ff;box-sizing:content-box"></div>
<div style="left:629.9px;top:380.20px;width:77.89999999999998px;height:13.56px;border:1px solid #4c9aff;box-sizing:content-box"></div>
<div style="left:262px;top:516.300px;width:613px;height:16px;background:#fff"></div>
<div style="left:262px;top:515.800px;width:600px;height:1px;background:#e4e6ea;box-shadow:0 -1px 2px rgba(9,30,66,.06)"></div>
<svg style="left:277.400px;top:521.500px" width="7" height="5" viewBox="0 0 7 5"><rect x=".5" y=".5" width="6" height="3.600" rx=".8" fill="none" stroke="#97a0af" stroke-width=".8"/></svg>
<span class="t ft" style="left:285.900px">9,600 issues</span>
<svg style="left:334px;top:520.500px" width="7" height="6.500" viewBox="0 0 7 6.500"><path d="M.5,1.200a.7.7 0 0 1 .7-.7H2.800l.8,1H5.800a.7.7 0 0 1 .7.7V5.300a.7.7 0 0 1-.7.7H1.200a.7.7 0 0 1-.7-.7Z" fill="none" stroke="#97a0af" stroke-width=".8"/></svg>
<span class="t ft" style="left:343.100px">24 projects</span>
<svg style="left:388px;top:520.500px" width="7" height="7" viewBox="0 0 7 7"><path d="M.8,2.500V.8H2.500M4.500,.8H6.200V4L4.500,6.200H3.500" fill="none" stroke="#97a0af" stroke-width=".8" stroke-dasharray="1.600 .8"/></svg>
<span class="t ft" style="left:396.400px;text-decoration:underline">Scope</span>
<span class="t ft" style="left:596.800px">4 people</span>
<span class="t ft" style="left:629.400px">5 fields</span>
<svg style="left:663.9px;top:519.5px" width="8.5" height="8.5" viewBox="0 0 20 20"><g fill="none" stroke="#c1c7d0" stroke-width="1.600" stroke-linecap="round" stroke-linejoin="round"><path d="M7,4H3.500l2.500,6-2.500,6H7M11,5h5M11,8.300h5M11,11.700h5M11,15h5"/></g></svg>
<svg style="left:679.2px;top:519.5px" width="8.5" height="8.5" viewBox="0 0 20 20"><g fill="none" stroke="#c1c7d0" stroke-width="1.600" stroke-linecap="round" stroke-linejoin="round"><path d="M3,5l2,2 2-2M3,12l2,2 2-2M11,5h5M11,8.300h5M11,11.700h5M11,15h5"/></g></svg>
<svg style="left:695.2px;top:519.5px" width="8.5" height="8.5" viewBox="0 0 20 20"><g fill="none" stroke="#c1c7d0" stroke-width="1.600" stroke-linecap="round" stroke-linejoin="round"><path d="M3,4h6M6,4v12M11,9h5M11,12.500h5M11,16h5"/></g></svg>
<svg style="left:710.6px;top:519.5px" width="8.5" height="8.5" viewBox="0 0 20 20"><g fill="none" stroke="#0052cc" stroke-width="2" stroke-linecap="round" stroke-linejoin="round"><path d="M3,4h6M6,4v12h3M11,9h5M11,12.500h5M11,16h5" /></g></svg>
<svg style="left:726.0px;top:519.5px" width="8.5" height="8.5" viewBox="0 0 20 20"><g fill="none" stroke="#c1c7d0" stroke-width="1.600" stroke-linecap="round" stroke-linejoin="round"><path d="M4,5h12M4,8.300h9M4,11.700h12M4,15h9"/></g></svg>
<svg style="left:741.5px;top:519.5px" width="8.5" height="8.5" viewBox="0 0 20 20"><g fill="none" stroke="#0052cc" stroke-width="2" stroke-linecap="round" stroke-linejoin="round"><rect x="3" y="3.500" width="11" height="4.500" rx="1" fill="#0052cc"/><path d="M14,6h3v4.500h-7V13M10,13v4"/></g></svg>
<svg style="left:757.5px;top:519.5px" width="8.5" height="8.5" viewBox="0 0 20 20"><g fill="none" stroke="#c1c7d0" stroke-width="1.600" stroke-linecap="round" stroke-linejoin="round"><circle cx="8.500" cy="8.500" r="5"/><path d="M12.500,12.500L17,17"/></g></svg>
<svg style="left:772.9px;top:519.5px" width="8.5" height="8.5" viewBox="0 0 20 20"><g fill="none" stroke="#c1c7d0" stroke-width="1.600" stroke-linecap="round" stroke-linejoin="round"><path d="M7,3v14M13,3v14M3,8l-1.500,2L3,12M17,8l1.500,2L17,12"/></g></svg>
<svg style="left:789.1px;top:519.5px" width="8.5" height="8.5" viewBox="0 0 20 20"><g fill="none" stroke="#0052cc" stroke-width="2" stroke-linecap="round" stroke-linejoin="round"><path d="M6,7.500L10,3l4,4.500ZM6,12.500L10,17l4-4.500Z" fill="#0052cc"/></g></svg>
<svg style="left:805.300px;top:520.0px" width="7" height="7.600" viewBox="0 0 7 7.600"><path d="M.3,.3H6.700L4.300,3.400V7.300H2.700V3.400Z" fill="#0052cc"/></svg>
<div style="left:827.600px;top:521.200px;width:12px;height:5.600px;border-radius:3px;background:#dfe1e6"></div><div style="left:828.300px;top:521.900px;width:4.200px;height:4.200px;border-radius:50%;background:#fff"></div>
<svg style="left:841.600px;top:520.800px" width="8.500" height="6.500" viewBox="0 0 8.500 6.500"><rect x=".4" y=".4" width="7.700" height="5.700" rx=".6" fill="none" stroke="#dfe1e6" stroke-width=".8"/><path d="M.8,1l3.450,2.600L7.700,1" fill="none" stroke="#dfe1e6" stroke-width=".8"/></svg>
</div>

<svg style="position:absolute;left:0;top:0" width="999" height="562" viewBox="0 0 999 562">
<rect x="25.800" y="31.200" width="26.400" height="26.600" rx="2.400" fill="#fff"/><rect x="56.400" y="33" width="9" height="4.300" fill="#fff"/>
<g fill="#34a878">
<path d="M30,39.500c0-2.500 1.500-4 4-4H48c0,2.500-1.500,4-4,4Z"/>
<path d="M30,46.200c0-2.500 1.500-4 4-4H48c0,2.500-1.500,4-4,4Z"/>
<path d="M30,53c0-2.500 1.500-4 4-4H48c0,2.500-1.500,4-4,4Z"/>
</g>
<text x="56" y="55" font-family="Liberation Sans, Arial, sans-serif" font-weight="bold" font-size="32" fill="#fff" textLength="42.800" lengthAdjust="spacingAndGlyphs">JXL</text>
<rect x="900.500" y="459" width="56.200" height="21.500" rx="10.750" fill="none" stroke="#fff" stroke-width="1.300"/>
<circle cx="911.400" cy="469.700" r="5.500" fill="#fff"/>
<path d="M908.500,467.500c1-1.500 2.500-2 3.500-1.500c.5,1-.5,2-1.500,2.500c-.8.400-1.500.3-2-1ZM910.500,472c1-.8 2.500-.6 3.500.2c1-1 1.500-2 1.200-3.200l1.500,1c0,2-1.500,3.800-3.500,4.200c-1.200-.3-2.200-1.200-2.700-2.200Z" fill="#1f7d52"/>
<text x="920.300" y="473" font-family="Liberation Sans, Arial, sans-serif" font-weight="bold" font-size="10" fill="#fff" textLength="32" lengthAdjust="spacingAndGlyphs">jxl.app</text>
<rect x="900.200" y="497.500" width="73" height="22.800" rx="2" fill="none" stroke="#fff" stroke-width="1.300"/>
<path d="M909.600,507c-.3-.4-.8-.3-1,.1l-3.100,6.300c-.2.300.1.700.4.700h3.900c.2,0,.4-.1.500-.3c.9-1.800.5-4.700-.7-6.800Z" fill="#fff"/>
<path d="M911.500,501.800c-1.700,2.700-1.600,5.700-.5,8l2,4c.1.200.3.300.5.300h4.300c.4,0,.6-.4.400-.7l-6-11.600c-.2-.3-.5-.3-.7,0Z" fill="#fff"/>
<text x="905.400" y="517.200" font-family="Liberation Sans, Arial, sans-serif" font-weight="bold" font-size="2.200" fill="#fff" textLength="13.200" lengthAdjust="spacingAndGlyphs">ATLASSIAN</text>
<text x="923.300" y="506.700" font-family="Liberation Sans, Arial, sans-serif" font-weight="bold" font-size="5.400" fill="#fff" textLength="41.200" lengthAdjust="spacingAndGlyphs">Available on the</text>
<text x="923.300" y="515" font-family="Liberation Sans, Arial, sans-serif" font-weight="bold" font-size="7.800" fill="#fff" textLength="43.700" lengthAdjust="spacingAndGlyphs">Marketplace</text>
</svg>

</body></html>
